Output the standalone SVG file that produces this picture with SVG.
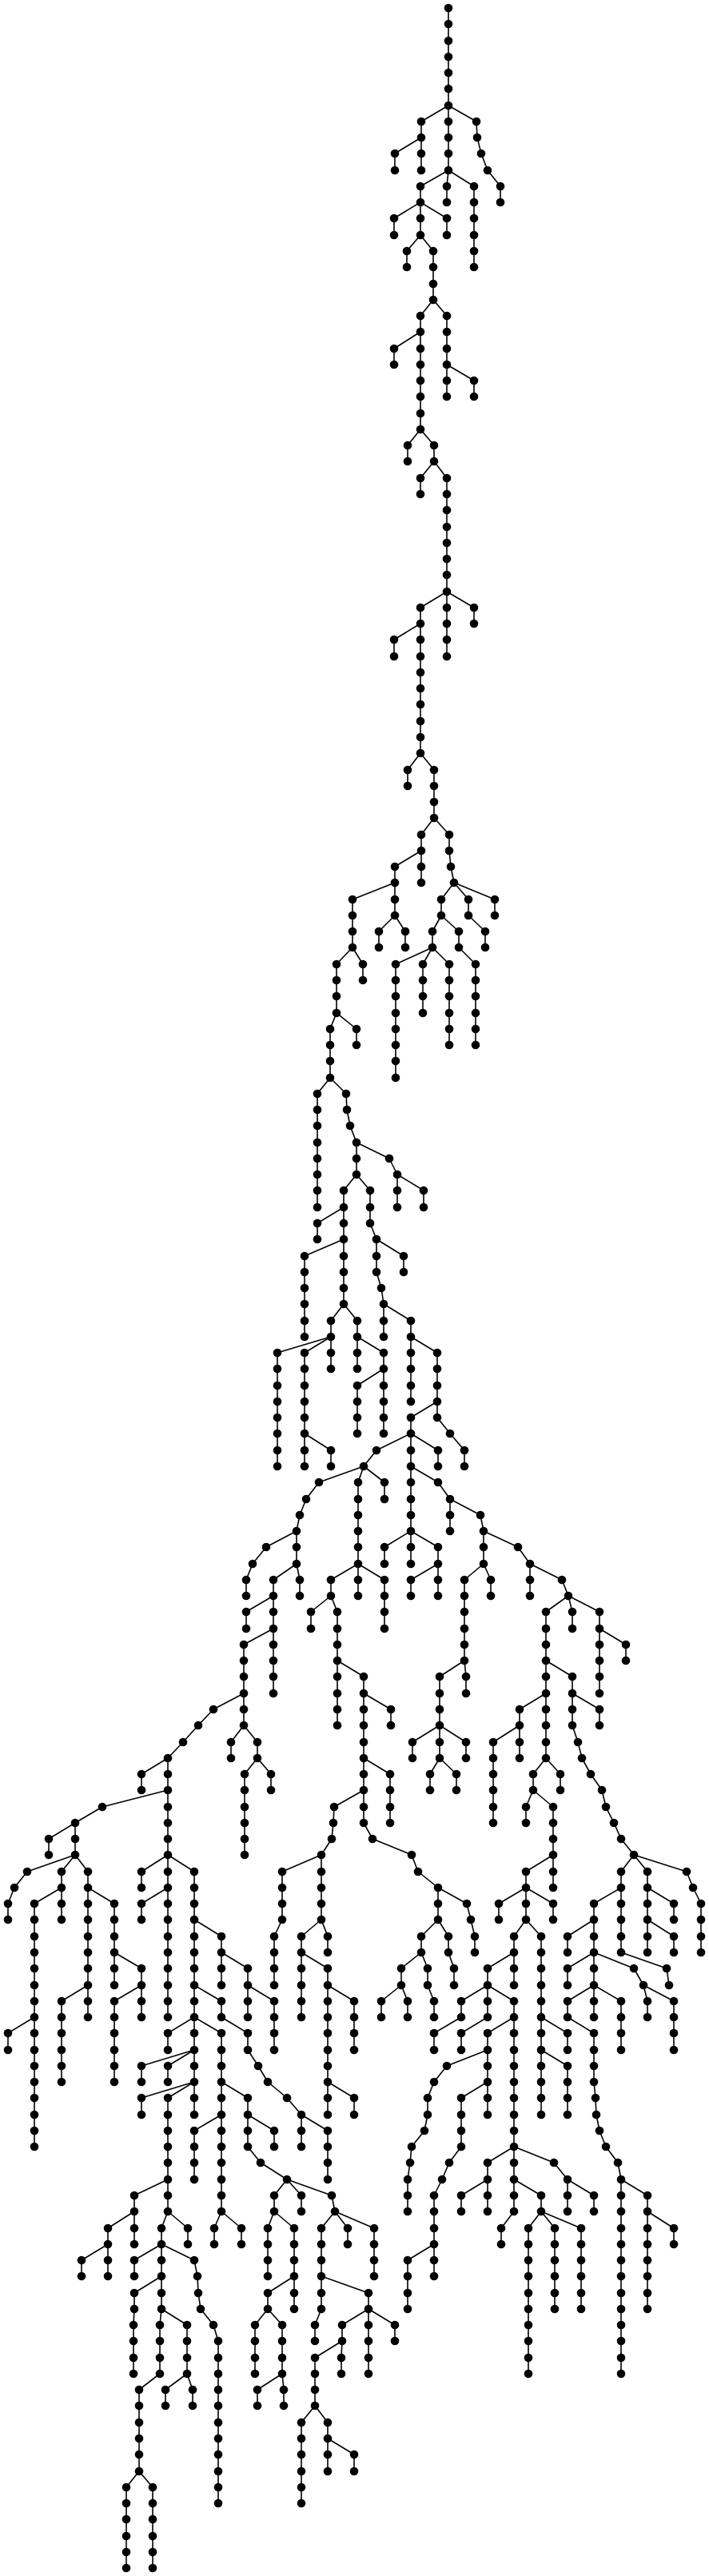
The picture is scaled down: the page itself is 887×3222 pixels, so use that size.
<svg xmlns="http://www.w3.org/2000/svg" width="887" height="3222" viewBox="0 0 887 3222">
<style>
#edges path{stroke:#000;stroke-width:1.6;fill:none}
.n circle{r:5.3px;fill:#000}
</style>
<rect width="887" height="3222" fill="#fff"/>
<g id="edges">
<path d="M561 10V30"/><path d="M561 30V51"/><path d="M561 51V71"/><path d="M561 71V91"/><path d="M561 91V111"/><path d="M561 111V132"/>
<path d="M561 132L527 152"/><path d="M561 132V152"/><path d="M561 132L596 152"/>
<path d="M527 152V172"/><path d="M561 152V172"/><path d="M596 152L597 172"/>
<path d="M527 172L494 192"/><path d="M527 172V192"/><path d="M561 172V192"/><path d="M597 172L602 192"/>
<path d="M494 192V213"/><path d="M527 192V213"/><path d="M561 192V213"/><path d="M602 192L610 213"/>
<path d="M561 213L526 233"/><path d="M561 213L559 233"/><path d="M561 213L593 233"/><path d="M610 213L626 233"/>
<path d="M526 233V253"/><path d="M559 233V253"/><path d="M593 233V253"/><path d="M626 233V253"/>
<path d="M526 253L493 273"/><path d="M526 253V273"/><path d="M526 253L559 273"/><path d="M593 253V273"/>
<path d="M493 273V294"/><path d="M526 273V294"/><path d="M559 273V294"/><path d="M593 273V294"/>
<path d="M526 294L509 314"/><path d="M526 294L542 314"/><path d="M593 294V314"/>
<path d="M509 314V334"/><path d="M542 314V334"/><path d="M593 314V334"/>
<path d="M542 334V355"/><path d="M542 355V375"/>
<path d="M542 375L526 395"/><path d="M542 375L559 395"/>
<path d="M526 395V415"/><path d="M559 395V415"/>
<path d="M526 415L493 436"/><path d="M526 415V436"/><path d="M559 415V436"/>
<path d="M493 436V456"/><path d="M526 436V456"/><path d="M559 436V456"/>
<path d="M526 456V476"/><path d="M559 456V476"/><path d="M559 456L593 476"/>
<path d="M526 476V496"/><path d="M559 476V496"/><path d="M593 476V496"/>
<path d="M526 496V517"/><path d="M526 517V537"/>
<path d="M526 537L510 557"/><path d="M526 537L543 557"/>
<path d="M510 557V577"/><path d="M543 557V577"/>
<path d="M543 577L526 598"/><path d="M543 577L559 598"/>
<path d="M526 598V618"/><path d="M559 598V618"/>
<path d="M559 618V638"/><path d="M559 638V659"/><path d="M559 659V679"/><path d="M559 679V699"/><path d="M559 699V719"/><path d="M559 719V740"/>
<path d="M559 740L526 760"/><path d="M559 740V760"/><path d="M559 740L593 760"/>
<path d="M526 760V780"/><path d="M559 760V780"/><path d="M593 760V780"/>
<path d="M526 780L493 800"/><path d="M526 780V800"/><path d="M559 780V800"/>
<path d="M493 800V821"/><path d="M526 800V821"/><path d="M559 800V821"/>
<path d="M526 821V841"/><path d="M526 841V861"/><path d="M526 861V881"/><path d="M526 881V902"/><path d="M526 902V922"/><path d="M526 922V942"/>
<path d="M526 942L510 963"/><path d="M526 942L543 963"/>
<path d="M510 963V983"/><path d="M543 963V983"/>
<path d="M543 983V1003"/><path d="M543 1003V1023"/>
<path d="M543 1023L527 1044"/><path d="M543 1023L562 1044"/>
<path d="M527 1044V1064"/><path d="M562 1044V1064"/>
<path d="M527 1064L494 1084"/><path d="M527 1064V1084"/><path d="M562 1064L564 1084"/>
<path d="M494 1084V1104"/><path d="M527 1084V1104"/><path d="M564 1084L568 1104"/>
<path d="M494 1104L441 1125"/><path d="M494 1104V1125"/><path d="M568 1104L552 1125"/><path d="M568 1104L586 1125"/><path d="M568 1104L619 1125"/>
<path d="M441 1125V1145"/><path d="M494 1125V1145"/><path d="M552 1125V1145"/><path d="M586 1125V1145"/><path d="M619 1125V1145"/>
<path d="M441 1145V1165"/><path d="M494 1145L474 1165"/><path d="M494 1145L507 1165"/><path d="M552 1145L541 1165"/><path d="M552 1145L574 1165"/><path d="M586 1145L607 1165"/>
<path d="M441 1165V1185"/><path d="M474 1165V1185"/><path d="M507 1165V1185"/><path d="M541 1165V1185"/><path d="M574 1165V1185"/><path d="M607 1165V1185"/>
<path d="M441 1185L421 1206"/><path d="M441 1185L454 1206"/><path d="M541 1185L495 1206"/><path d="M541 1185L529 1206"/><path d="M541 1185L562 1206"/><path d="M574 1185L595 1206"/>
<path d="M421 1206V1226"/><path d="M454 1206V1226"/><path d="M495 1206V1226"/><path d="M529 1206V1226"/><path d="M562 1206V1226"/><path d="M595 1206V1226"/>
<path d="M421 1226V1246"/><path d="M495 1226V1246"/><path d="M529 1226V1246"/><path d="M562 1226V1246"/><path d="M595 1226V1246"/>
<path d="M421 1246V1267"/><path d="M495 1246V1267"/><path d="M529 1246V1267"/><path d="M562 1246V1267"/><path d="M595 1246V1267"/>
<path d="M421 1267L413 1287"/><path d="M421 1267L446 1287"/><path d="M495 1267V1287"/><path d="M562 1267V1287"/><path d="M595 1267V1287"/>
<path d="M413 1287V1307"/><path d="M446 1287V1307"/><path d="M495 1287V1307"/><path d="M562 1287V1307"/><path d="M595 1287V1307"/>
<path d="M413 1307V1327"/><path d="M495 1307V1327"/>
<path d="M413 1327V1348"/><path d="M495 1327V1348"/>
<path d="M413 1348L397 1368"/><path d="M413 1348L433 1368"/>
<path d="M397 1368V1388"/><path d="M433 1368L434 1388"/>
<path d="M397 1388V1408"/><path d="M434 1388L438 1408"/>
<path d="M397 1408V1429"/><path d="M438 1408L446 1429"/>
<path d="M397 1429V1449"/><path d="M446 1429V1449"/><path d="M446 1429L487 1449"/>
<path d="M397 1449V1469"/><path d="M446 1449V1469"/><path d="M487 1449L497 1469"/>
<path d="M397 1469V1489"/><path d="M446 1469L430 1489"/><path d="M446 1469L463 1489"/><path d="M497 1469V1489"/><path d="M497 1469L530 1489"/>
<path d="M397 1489V1510"/><path d="M430 1489V1510"/><path d="M463 1489V1510"/><path d="M497 1489V1510"/><path d="M530 1489V1510"/>
<path d="M430 1510L397 1530"/><path d="M430 1510V1530"/><path d="M463 1510V1530"/>
<path d="M397 1530V1550"/><path d="M430 1530V1550"/><path d="M463 1530L471 1550"/>
<path d="M430 1550L381 1571"/><path d="M430 1550V1571"/><path d="M471 1550V1571"/><path d="M471 1550L505 1571"/>
<path d="M381 1571V1591"/><path d="M430 1571V1591"/><path d="M471 1571V1591"/><path d="M505 1571V1591"/>
<path d="M381 1591V1611"/><path d="M430 1591V1611"/><path d="M471 1591L477 1611"/>
<path d="M381 1611V1631"/><path d="M430 1611V1631"/><path d="M477 1611L480 1631"/>
<path d="M381 1631V1652"/><path d="M430 1631L414 1652"/><path d="M430 1631L447 1652"/><path d="M480 1631V1652"/><path d="M480 1631L514 1652"/>
<path d="M381 1652V1672"/><path d="M414 1652V1672"/><path d="M447 1652V1672"/><path d="M480 1652V1672"/><path d="M514 1652V1672"/>
<path d="M414 1672L347 1692"/><path d="M414 1672L381 1692"/><path d="M414 1672V1692"/><path d="M447 1672V1692"/><path d="M447 1672L480 1692"/><path d="M514 1672V1692"/><path d="M514 1672L547 1692"/>
<path d="M347 1692V1712"/><path d="M381 1692V1712"/><path d="M414 1692V1712"/><path d="M447 1692V1712"/><path d="M480 1692V1712"/><path d="M514 1692V1712"/><path d="M547 1692V1712"/>
<path d="M347 1712V1733"/><path d="M381 1712V1733"/><path d="M480 1712L447 1733"/><path d="M480 1712V1733"/><path d="M514 1712V1733"/><path d="M547 1712V1733"/>
<path d="M347 1733V1753"/><path d="M381 1733V1753"/><path d="M447 1733V1753"/><path d="M480 1733V1753"/><path d="M514 1733V1753"/><path d="M547 1733V1753"/>
<path d="M347 1753V1773"/><path d="M381 1753V1773"/><path d="M447 1753V1773"/><path d="M480 1753V1773"/><path d="M547 1753L514 1773"/><path d="M547 1753V1773"/>
<path d="M347 1773V1793"/><path d="M381 1773V1793"/><path d="M447 1773V1793"/><path d="M480 1773V1793"/><path d="M514 1773V1793"/><path d="M547 1773L563 1793"/>
<path d="M347 1793V1814"/><path d="M381 1793V1814"/><path d="M381 1793L414 1814"/><path d="M514 1793L471 1814"/><path d="M514 1793V1814"/><path d="M514 1793L548 1814"/><path d="M563 1793L581 1814"/>
<path d="M347 1814V1834"/><path d="M381 1814V1834"/><path d="M414 1814V1834"/><path d="M471 1814L455 1834"/><path d="M514 1814V1834"/><path d="M548 1814V1834"/><path d="M581 1814V1834"/>
<path d="M455 1834L399 1854"/><path d="M455 1834L448 1854"/><path d="M455 1834L481 1854"/><path d="M514 1834V1854"/><path d="M514 1834L548 1854"/>
<path d="M399 1854L383 1875"/><path d="M448 1854V1875"/><path d="M481 1854V1875"/><path d="M514 1854V1875"/><path d="M548 1854L563 1875"/>
<path d="M383 1875L375 1895"/><path d="M448 1875V1895"/><path d="M514 1875V1895"/><path d="M563 1875V1895"/><path d="M563 1875L601 1895"/>
<path d="M375 1895L371 1915"/><path d="M448 1895V1915"/><path d="M514 1895V1915"/><path d="M563 1895V1915"/><path d="M601 1895L605 1915"/>
<path d="M371 1915L333 1935"/><path d="M371 1915V1935"/><path d="M448 1915V1935"/><path d="M514 1915L481 1935"/><path d="M514 1915V1935"/><path d="M514 1915L548 1935"/><path d="M605 1915V1935"/><path d="M605 1915L648 1935"/>
<path d="M333 1935L316 1956"/><path d="M371 1935V1956"/><path d="M448 1935V1956"/><path d="M481 1935V1956"/><path d="M514 1935V1956"/><path d="M548 1935V1956"/><path d="M605 1935V1956"/><path d="M648 1935L663 1956"/>
<path d="M316 1956L308 1976"/><path d="M371 1956L342 1976"/><path d="M371 1956L375 1976"/><path d="M448 1956L414 1976"/><path d="M448 1956V1976"/><path d="M448 1956L481 1976"/><path d="M548 1956L514 1976"/><path d="M548 1956V1976"/><path d="M605 1956L581 1976"/><path d="M605 1956L614 1976"/><path d="M663 1956V1976"/><path d="M663 1956L703 1976"/>
<path d="M308 1976V1996"/><path d="M342 1976V1996"/><path d="M375 1976V1996"/><path d="M414 1976V1996"/><path d="M448 1976V1996"/><path d="M481 1976V1996"/><path d="M514 1976V1996"/><path d="M548 1976V1996"/><path d="M581 1976V1996"/><path d="M614 1976V1996"/><path d="M663 1976V1996"/><path d="M703 1976L711 1996"/>
<path d="M342 1996L308 2016"/><path d="M342 1996V2016"/><path d="M414 1996L389 2016"/><path d="M414 1996L422 2016"/><path d="M481 1996V2016"/><path d="M581 1996V2016"/><path d="M711 1996L683 2016"/><path d="M711 1996L716 2016"/><path d="M711 1996L750 2016"/>
<path d="M308 2016V2037"/><path d="M342 2016V2037"/><path d="M389 2016V2037"/><path d="M422 2016V2037"/><path d="M481 2016V2037"/><path d="M581 2016V2037"/><path d="M683 2016V2037"/><path d="M716 2016V2037"/><path d="M750 2016V2037"/>
<path d="M342 2037L305 2057"/><path d="M342 2037V2057"/><path d="M422 2037V2057"/><path d="M581 2037V2057"/><path d="M683 2037V2057"/><path d="M750 2037V2057"/><path d="M750 2037L783 2057"/>
<path d="M305 2057V2077"/><path d="M342 2057V2077"/><path d="M422 2057V2077"/><path d="M581 2057V2077"/><path d="M683 2057V2077"/><path d="M750 2057V2077"/><path d="M783 2057V2077"/>
<path d="M305 2077V2097"/><path d="M342 2077V2097"/><path d="M422 2077V2097"/><path d="M422 2077L455 2097"/><path d="M581 2077L550 2097"/><path d="M581 2077L583 2097"/><path d="M683 2077V2097"/><path d="M683 2077L716 2097"/><path d="M750 2077V2097"/>
<path d="M305 2097V2118"/><path d="M342 2097V2118"/><path d="M422 2097V2118"/><path d="M455 2097V2118"/><path d="M550 2097V2118"/><path d="M583 2097V2118"/><path d="M683 2097V2118"/><path d="M716 2097V2118"/><path d="M750 2097V2118"/>
<path d="M305 2118L267 2138"/><path d="M305 2118V2138"/><path d="M422 2118V2138"/><path d="M455 2118V2138"/><path d="M455 2118L489 2138"/><path d="M550 2118V2138"/><path d="M683 2118L650 2138"/><path d="M683 2118V2138"/><path d="M716 2118V2138"/><path d="M716 2118L750 2138"/>
<path d="M267 2138L248 2158"/><path d="M305 2138V2158"/><path d="M422 2138V2158"/><path d="M455 2138V2158"/><path d="M489 2138V2158"/><path d="M550 2138V2158"/><path d="M650 2138V2158"/><path d="M683 2138V2158"/><path d="M716 2138V2158"/><path d="M750 2138V2158"/>
<path d="M248 2158L229 2179"/><path d="M305 2158L289 2179"/><path d="M305 2158L322 2179"/><path d="M455 2158V2179"/><path d="M550 2158L516 2179"/><path d="M550 2158V2179"/><path d="M550 2158L583 2179"/><path d="M650 2158L617 2179"/><path d="M650 2158V2179"/><path d="M683 2158V2179"/><path d="M716 2158L723 2179"/>
<path d="M229 2179L210 2199"/><path d="M289 2179V2199"/><path d="M322 2179V2199"/><path d="M455 2179V2199"/><path d="M516 2179V2199"/><path d="M550 2179V2199"/><path d="M583 2179V2199"/><path d="M617 2179V2199"/><path d="M650 2179V2199"/><path d="M683 2179V2199"/><path d="M723 2179L728 2199"/>
<path d="M210 2199L177 2219"/><path d="M210 2199V2219"/><path d="M322 2199L306 2219"/><path d="M322 2199L339 2219"/><path d="M455 2199V2219"/><path d="M455 2199L488 2219"/><path d="M550 2199L538 2219"/><path d="M550 2199L571 2219"/><path d="M617 2199V2219"/><path d="M683 2199L667 2219"/><path d="M683 2199L701 2219"/><path d="M728 2199L739 2219"/>
<path d="M177 2219V2239"/><path d="M210 2219V2239"/><path d="M306 2219V2239"/><path d="M339 2219V2239"/><path d="M455 2219V2239"/><path d="M488 2219V2239"/><path d="M538 2219V2239"/><path d="M571 2219V2239"/><path d="M617 2219V2239"/><path d="M667 2219V2239"/><path d="M701 2219V2239"/><path d="M739 2219L753 2239"/>
<path d="M210 2239L128 2260"/><path d="M210 2239V2260"/><path d="M306 2239V2260"/><path d="M455 2239L418 2260"/><path d="M455 2239V2260"/><path d="M488 2239V2260"/><path d="M617 2239V2260"/><path d="M667 2239L658 2260"/><path d="M667 2239L692 2260"/><path d="M753 2239L758 2260"/>
<path d="M128 2260L94 2280"/><path d="M210 2260V2280"/><path d="M306 2260V2280"/><path d="M418 2260L417 2280"/><path d="M455 2260V2280"/><path d="M488 2260V2280"/><path d="M617 2260V2280"/><path d="M658 2260V2280"/><path d="M692 2260V2280"/><path d="M758 2260L768 2280"/>
<path d="M94 2280L61 2300"/><path d="M94 2280V2300"/><path d="M210 2280V2300"/><path d="M306 2280V2300"/><path d="M417 2280L415 2300"/><path d="M455 2280L466 2300"/><path d="M692 2280V2300"/><path d="M768 2280L777 2300"/>
<path d="M61 2300V2320"/><path d="M94 2300V2320"/><path d="M210 2300V2320"/><path d="M306 2300V2320"/><path d="M415 2300L402 2320"/><path d="M466 2300L515 2320"/><path d="M692 2300V2320"/><path d="M777 2300L793 2320"/>
<path d="M94 2320L34 2341"/><path d="M94 2320L77 2341"/><path d="M94 2320L110 2341"/><path d="M210 2320L177 2341"/><path d="M210 2320V2341"/><path d="M210 2320L243 2341"/><path d="M402 2320L353 2341"/><path d="M402 2320V2341"/><path d="M515 2320L523 2341"/><path d="M692 2320L658 2341"/><path d="M692 2320V2341"/><path d="M793 2320L777 2341"/><path d="M793 2320L810 2341"/><path d="M793 2320L859 2341"/>
<path d="M34 2341L18 2361"/><path d="M77 2341V2361"/><path d="M110 2341V2361"/><path d="M177 2341V2361"/><path d="M210 2341V2361"/><path d="M243 2341V2361"/><path d="M353 2341V2361"/><path d="M402 2341V2361"/><path d="M523 2341L548 2361"/><path d="M658 2341V2361"/><path d="M692 2341V2361"/><path d="M777 2341V2361"/><path d="M810 2341V2361"/><path d="M859 2341L867 2361"/>
<path d="M18 2361L10 2381"/><path d="M77 2361L43 2381"/><path d="M77 2361V2381"/><path d="M110 2361V2381"/><path d="M110 2361L143 2381"/><path d="M210 2361L177 2381"/><path d="M210 2361V2381"/><path d="M243 2361V2381"/><path d="M353 2361V2381"/><path d="M402 2361V2381"/><path d="M548 2361V2381"/><path d="M548 2361L584 2381"/><path d="M658 2361L624 2381"/><path d="M658 2361V2381"/><path d="M658 2361L692 2381"/><path d="M777 2361L743 2381"/><path d="M777 2361V2381"/><path d="M810 2361V2381"/><path d="M810 2361L843 2381"/><path d="M867 2361L877 2381"/>
<path d="M10 2381V2401"/><path d="M43 2381V2401"/><path d="M77 2381V2401"/><path d="M110 2381V2401"/><path d="M143 2381V2401"/><path d="M177 2381V2401"/><path d="M210 2381V2401"/><path d="M243 2381V2401"/><path d="M353 2381V2401"/><path d="M402 2381V2401"/><path d="M548 2381V2401"/><path d="M584 2381L589 2401"/><path d="M624 2381V2401"/><path d="M658 2381V2401"/><path d="M692 2381V2401"/><path d="M743 2381V2401"/><path d="M777 2381V2401"/><path d="M810 2381V2401"/><path d="M843 2381V2401"/><path d="M877 2381V2401"/>
<path d="M43 2401V2422"/><path d="M110 2401V2422"/><path d="M143 2401V2422"/><path d="M210 2401V2422"/><path d="M243 2401V2422"/><path d="M243 2401L277 2422"/><path d="M353 2401L343 2422"/><path d="M402 2401L377 2422"/><path d="M402 2401L410 2422"/><path d="M548 2401L527 2422"/><path d="M548 2401L561 2422"/><path d="M589 2401L594 2422"/><path d="M658 2401L643 2422"/><path d="M658 2401L677 2422"/><path d="M743 2401L710 2422"/><path d="M743 2401V2422"/><path d="M777 2401V2422"/><path d="M810 2401V2422"/><path d="M810 2401L843 2422"/><path d="M877 2401V2422"/>
<path d="M43 2422V2442"/><path d="M110 2422V2442"/><path d="M143 2422V2442"/><path d="M210 2422V2442"/><path d="M243 2422V2442"/><path d="M277 2422V2442"/><path d="M343 2422V2442"/><path d="M377 2422V2442"/><path d="M410 2422V2442"/><path d="M527 2422V2442"/><path d="M561 2422V2442"/><path d="M594 2422V2442"/><path d="M643 2422V2442"/><path d="M677 2422V2442"/><path d="M710 2422V2442"/><path d="M743 2422V2442"/><path d="M777 2422V2442"/><path d="M810 2422V2442"/><path d="M843 2422V2442"/><path d="M877 2422V2442"/>
<path d="M43 2442V2462"/><path d="M110 2442V2462"/><path d="M143 2442V2462"/><path d="M143 2442L177 2462"/><path d="M210 2442V2462"/><path d="M243 2442V2462"/><path d="M277 2442V2462"/><path d="M277 2442L310 2462"/><path d="M343 2442V2462"/><path d="M377 2442V2462"/><path d="M377 2442L410 2462"/><path d="M527 2442L502 2462"/><path d="M527 2442L535 2462"/><path d="M561 2442L568 2462"/><path d="M643 2442L610 2462"/><path d="M643 2442V2462"/><path d="M677 2442V2462"/><path d="M743 2442L710 2462"/><path d="M743 2442V2462"/><path d="M743 2442L793 2462"/><path d="M777 2442L834 2462"/>
<path d="M43 2462V2483"/><path d="M110 2462V2483"/><path d="M143 2462V2483"/><path d="M177 2462V2483"/><path d="M210 2462V2483"/><path d="M243 2462V2483"/><path d="M277 2462V2483"/><path d="M310 2462V2483"/><path d="M343 2462V2483"/><path d="M377 2462V2483"/><path d="M410 2462V2483"/><path d="M502 2462V2483"/><path d="M535 2462V2483"/><path d="M568 2462V2483"/><path d="M610 2462V2483"/><path d="M643 2462V2483"/><path d="M677 2462V2483"/><path d="M710 2462V2483"/><path d="M743 2462V2483"/><path d="M793 2462L805 2483"/><path d="M834 2462L837 2483"/>
<path d="M43 2483V2503"/><path d="M110 2483L77 2503"/><path d="M110 2483V2503"/><path d="M177 2483L143 2503"/><path d="M177 2483V2503"/><path d="M210 2483V2503"/><path d="M243 2483V2503"/><path d="M243 2483L277 2503"/><path d="M310 2483V2503"/><path d="M310 2483L343 2503"/><path d="M377 2483V2503"/><path d="M410 2483V2503"/><path d="M410 2483L443 2503"/><path d="M502 2483L477 2503"/><path d="M502 2483L510 2503"/><path d="M535 2483L543 2503"/><path d="M610 2483L577 2503"/><path d="M610 2483V2503"/><path d="M610 2483L643 2503"/><path d="M677 2483V2503"/><path d="M743 2483L710 2503"/><path d="M743 2483V2503"/><path d="M743 2483L777 2503"/><path d="M805 2483L810 2503"/><path d="M805 2483L843 2503"/>
<path d="M43 2503V2523"/><path d="M77 2503V2523"/><path d="M110 2503V2523"/><path d="M143 2503V2523"/><path d="M177 2503V2523"/><path d="M210 2503V2523"/><path d="M243 2503V2523"/><path d="M277 2503V2523"/><path d="M310 2503V2523"/><path d="M343 2503V2523"/><path d="M377 2503V2523"/><path d="M410 2503V2523"/><path d="M443 2503V2523"/><path d="M477 2503V2523"/><path d="M510 2503V2523"/><path d="M543 2503V2523"/><path d="M577 2503V2523"/><path d="M610 2503V2523"/><path d="M643 2503V2523"/><path d="M677 2503V2523"/><path d="M710 2503V2523"/><path d="M743 2503V2523"/><path d="M777 2503V2523"/><path d="M810 2503V2523"/><path d="M843 2503V2523"/>
<path d="M43 2523L10 2543"/><path d="M43 2523V2543"/><path d="M77 2523V2543"/><path d="M143 2523V2543"/><path d="M243 2523L210 2543"/><path d="M243 2523V2543"/><path d="M243 2523L277 2543"/><path d="M277 2523L310 2543"/><path d="M343 2523V2543"/><path d="M410 2523V2543"/><path d="M443 2523V2543"/><path d="M577 2523L543 2543"/><path d="M610 2523L577 2543"/><path d="M643 2523L610 2543"/><path d="M643 2523V2543"/><path d="M677 2523V2543"/><path d="M677 2523L710 2543"/><path d="M710 2523L743 2543"/><path d="M777 2523V2543"/><path d="M843 2523V2543"/>
<path d="M10 2543V2564"/><path d="M43 2543V2564"/><path d="M77 2543V2564"/><path d="M143 2543V2564"/><path d="M210 2543V2564"/><path d="M243 2543V2564"/><path d="M277 2543V2564"/><path d="M310 2543V2564"/><path d="M343 2543V2564"/><path d="M410 2543V2564"/><path d="M443 2543V2564"/><path d="M543 2543V2564"/><path d="M577 2543V2564"/><path d="M610 2543V2564"/><path d="M643 2543V2564"/><path d="M677 2543V2564"/><path d="M710 2543V2564"/><path d="M743 2543V2564"/><path d="M777 2543V2564"/><path d="M843 2543V2564"/>
<path d="M43 2564V2584"/><path d="M77 2564V2584"/><path d="M143 2564V2584"/><path d="M243 2564L177 2584"/><path d="M243 2564L210 2584"/><path d="M243 2564V2584"/><path d="M277 2564V2584"/><path d="M310 2564L323 2584"/><path d="M410 2564V2584"/><path d="M610 2564L559 2584"/><path d="M610 2564V2584"/><path d="M643 2564V2584"/><path d="M677 2564V2584"/><path d="M677 2564L710 2584"/><path d="M743 2564V2584"/>
<path d="M43 2584V2604"/><path d="M77 2584V2604"/><path d="M143 2584V2604"/><path d="M177 2584V2604"/><path d="M210 2584V2604"/><path d="M243 2584V2604"/><path d="M277 2584V2604"/><path d="M323 2584L335 2604"/><path d="M410 2584V2604"/><path d="M559 2584L543 2604"/><path d="M610 2584V2604"/><path d="M643 2584V2604"/><path d="M677 2584V2604"/><path d="M710 2584V2604"/><path d="M743 2584V2604"/>
<path d="M43 2604V2624"/><path d="M243 2604L177 2624"/><path d="M243 2604L210 2624"/><path d="M243 2604V2624"/><path d="M277 2604V2624"/><path d="M277 2604L310 2624"/><path d="M335 2604L359 2624"/><path d="M410 2604V2624"/><path d="M410 2604L443 2624"/><path d="M543 2604L535 2624"/><path d="M610 2604L577 2624"/><path d="M610 2604V2624"/><path d="M643 2604V2624"/><path d="M677 2604V2624"/><path d="M710 2604V2624"/><path d="M743 2604L745 2624"/>
<path d="M43 2624V2645"/><path d="M177 2624V2645"/><path d="M210 2624V2645"/><path d="M243 2624V2645"/><path d="M277 2624V2645"/><path d="M310 2624V2645"/><path d="M359 2624L377 2645"/><path d="M410 2624V2645"/><path d="M443 2624V2645"/><path d="M535 2624V2645"/><path d="M577 2624V2645"/><path d="M610 2624V2645"/><path d="M643 2624V2645"/><path d="M677 2624V2645"/><path d="M710 2624V2645"/><path d="M745 2624L746 2645"/>
<path d="M43 2645V2665"/><path d="M210 2645V2665"/><path d="M277 2645L243 2665"/><path d="M277 2645V2665"/><path d="M310 2645V2665"/><path d="M310 2645L343 2665"/><path d="M377 2645V2665"/><path d="M377 2645L410 2665"/><path d="M535 2645L531 2665"/><path d="M577 2645V2665"/><path d="M643 2645V2665"/><path d="M746 2645L750 2665"/>
<path d="M43 2665V2685"/><path d="M210 2665V2685"/><path d="M243 2665V2685"/><path d="M277 2665V2685"/><path d="M310 2665V2685"/><path d="M343 2665V2685"/><path d="M377 2665V2685"/><path d="M410 2665V2685"/><path d="M531 2665L515 2685"/><path d="M577 2665V2685"/><path d="M643 2665V2685"/><path d="M750 2665L758 2685"/>
<path d="M210 2685V2705"/><path d="M243 2685V2705"/><path d="M277 2685V2705"/><path d="M310 2685L326 2705"/><path d="M410 2685V2705"/><path d="M515 2685L513 2705"/><path d="M577 2685L562 2705"/><path d="M643 2685L610 2705"/><path d="M643 2685V2705"/><path d="M643 2685L693 2705"/><path d="M758 2685L773 2705"/>
<path d="M210 2705V2726"/><path d="M243 2705V2726"/><path d="M277 2705V2726"/><path d="M326 2705L359 2726"/><path d="M410 2705V2726"/><path d="M513 2705L510 2726"/><path d="M562 2705L553 2726"/><path d="M610 2705V2726"/><path d="M643 2705V2726"/><path d="M693 2705L710 2726"/><path d="M773 2705L777 2726"/>
<path d="M210 2726L168 2746"/><path d="M210 2726V2746"/><path d="M277 2726V2746"/><path d="M359 2726L343 2746"/><path d="M359 2726L377 2746"/><path d="M359 2726L415 2746"/><path d="M510 2726V2746"/><path d="M553 2726L543 2746"/><path d="M610 2726L577 2746"/><path d="M610 2726V2746"/><path d="M643 2726V2746"/><path d="M643 2726L677 2746"/><path d="M710 2726V2746"/><path d="M710 2726L743 2746"/><path d="M777 2726V2746"/><path d="M777 2726L810 2746"/>
<path d="M168 2746V2766"/><path d="M210 2746V2766"/><path d="M277 2746V2766"/><path d="M343 2746V2766"/><path d="M377 2746V2766"/><path d="M415 2746L419 2766"/><path d="M510 2746V2766"/><path d="M543 2746V2766"/><path d="M577 2746V2766"/><path d="M610 2746V2766"/><path d="M643 2746V2766"/><path d="M677 2746V2766"/><path d="M710 2746V2766"/><path d="M743 2746V2766"/><path d="M777 2746V2766"/><path d="M810 2746V2766"/>
<path d="M168 2766L135 2787"/><path d="M168 2766V2787"/><path d="M210 2766L202 2787"/><path d="M210 2766L235 2787"/><path d="M277 2766L268 2787"/><path d="M277 2766L302 2787"/><path d="M343 2766L335 2787"/><path d="M343 2766L368 2787"/><path d="M419 2766L402 2787"/><path d="M419 2766L435 2787"/><path d="M419 2766L468 2787"/><path d="M543 2766V2787"/><path d="M643 2766L627 2787"/><path d="M677 2766L661 2787"/><path d="M677 2766L694 2787"/><path d="M677 2766L727 2787"/><path d="M777 2766V2787"/><path d="M810 2766V2787"/><path d="M810 2766L843 2787"/>
<path d="M135 2787V2807"/><path d="M168 2787V2807"/><path d="M202 2787V2807"/><path d="M235 2787V2807"/><path d="M268 2787V2807"/><path d="M302 2787V2807"/><path d="M335 2787V2807"/><path d="M368 2787V2807"/><path d="M402 2787V2807"/><path d="M435 2787V2807"/><path d="M468 2787V2807"/><path d="M543 2787V2807"/><path d="M627 2787V2807"/><path d="M661 2787V2807"/><path d="M694 2787V2807"/><path d="M727 2787V2807"/><path d="M777 2787V2807"/><path d="M810 2787V2807"/><path d="M843 2787V2807"/>
<path d="M135 2807L102 2827"/><path d="M135 2807V2827"/><path d="M202 2807L168 2827"/><path d="M202 2807V2827"/><path d="M202 2807L243 2827"/><path d="M335 2807V2827"/><path d="M368 2807V2827"/><path d="M402 2807V2827"/><path d="M468 2807V2827"/><path d="M543 2807L510 2827"/><path d="M543 2807V2827"/><path d="M661 2807V2827"/><path d="M694 2807V2827"/><path d="M727 2807V2827"/><path d="M777 2807V2827"/><path d="M810 2807V2827"/>
<path d="M102 2827V2847"/><path d="M135 2827V2847"/><path d="M168 2827V2847"/><path d="M202 2827V2847"/><path d="M243 2827L247 2847"/><path d="M335 2827V2847"/><path d="M368 2827V2847"/><path d="M402 2827V2847"/><path d="M468 2827V2847"/><path d="M510 2827V2847"/><path d="M543 2827V2847"/><path d="M661 2827V2847"/><path d="M694 2827V2847"/><path d="M727 2827V2847"/><path d="M777 2827V2847"/><path d="M810 2827V2847"/>
<path d="M202 2847L168 2868"/><path d="M202 2847V2868"/><path d="M247 2847L248 2868"/><path d="M368 2847L335 2868"/><path d="M368 2847V2868"/><path d="M402 2847V2868"/><path d="M402 2847L461 2868"/><path d="M510 2847V2868"/><path d="M661 2847V2868"/><path d="M694 2847V2868"/><path d="M727 2847V2868"/><path d="M777 2847V2868"/><path d="M810 2847V2868"/>
<path d="M168 2868V2888"/><path d="M202 2868V2888"/><path d="M248 2868L251 2888"/><path d="M335 2868V2888"/><path d="M368 2868V2888"/><path d="M402 2868V2888"/><path d="M461 2868V2888"/><path d="M510 2868V2888"/><path d="M661 2868V2888"/><path d="M694 2868V2888"/><path d="M727 2868V2888"/><path d="M777 2868V2888"/><path d="M810 2868V2888"/>
<path d="M168 2888L167 2908"/><path d="M202 2888L200 2908"/><path d="M202 2888L234 2908"/><path d="M251 2888L267 2908"/><path d="M335 2888L319 2908"/><path d="M335 2888L353 2908"/><path d="M402 2888L394 2908"/><path d="M461 2888L428 2908"/><path d="M461 2888V2908"/><path d="M461 2888L494 2908"/><path d="M661 2888V2908"/><path d="M777 2888V2908"/>
<path d="M167 2908V2928"/><path d="M200 2908V2928"/><path d="M234 2908V2928"/><path d="M267 2908L273 2928"/><path d="M319 2908V2928"/><path d="M353 2908V2928"/><path d="M394 2908V2928"/><path d="M428 2908V2928"/><path d="M461 2908V2928"/><path d="M494 2908V2928"/><path d="M661 2908V2928"/><path d="M777 2908V2928"/>
<path d="M167 2928V2949"/><path d="M200 2928V2949"/><path d="M234 2928V2949"/><path d="M273 2928V2949"/><path d="M319 2928V2949"/><path d="M353 2928V2949"/><path d="M428 2928L394 2949"/><path d="M428 2928L427 2949"/><path d="M461 2928V2949"/><path d="M661 2928V2949"/><path d="M777 2928V2949"/>
<path d="M167 2949V2969"/><path d="M200 2949V2969"/><path d="M234 2949V2969"/><path d="M273 2949V2969"/><path d="M319 2949V2969"/><path d="M353 2949V2969"/><path d="M394 2949V2969"/><path d="M427 2949V2969"/><path d="M461 2949V2969"/><path d="M661 2949V2969"/><path d="M777 2949V2969"/>
<path d="M200 2969L174 2989"/><path d="M234 2969L207 2989"/><path d="M234 2969L241 2989"/><path d="M273 2969V2989"/><path d="M353 2969L322 2989"/><path d="M353 2969L355 2989"/><path d="M394 2969V2989"/>
<path d="M174 2989V3009"/><path d="M207 2989V3009"/><path d="M241 2989V3009"/><path d="M273 2989V3009"/><path d="M322 2989V3009"/><path d="M355 2989V3009"/><path d="M394 2989V3009"/>
<path d="M174 3009V3030"/><path d="M273 3009V3030"/><path d="M394 3009L377 3030"/><path d="M394 3009L410 3030"/>
<path d="M174 3030V3050"/><path d="M273 3030V3050"/><path d="M377 3030V3050"/><path d="M410 3030V3050"/>
<path d="M174 3050V3070"/><path d="M273 3050V3070"/><path d="M377 3050V3070"/><path d="M410 3050V3070"/><path d="M410 3050L443 3070"/>
<path d="M174 3070V3091"/><path d="M273 3070V3091"/><path d="M377 3070V3091"/><path d="M410 3070V3091"/><path d="M443 3070V3091"/>
<path d="M174 3091L158 3111"/><path d="M174 3091L191 3111"/><path d="M273 3091V3111"/><path d="M377 3091V3111"/>
<path d="M158 3111V3131"/><path d="M191 3111V3131"/><path d="M273 3111V3131"/><path d="M377 3111V3131"/>
<path d="M158 3131V3151"/><path d="M191 3131V3151"/><path d="M158 3151V3172"/><path d="M191 3151V3172"/><path d="M158 3172V3192"/><path d="M191 3172V3192"/><path d="M158 3192V3212"/><path d="M191 3192V3212"/>
</g>
<g class="n">
<g id="n1"><circle cx="561" cy="10"/></g><g id="n2"><circle cx="561" cy="30"/></g><g id="n3"><circle cx="561" cy="51"/></g><g id="n4"><circle cx="561" cy="71"/></g><g id="n5"><circle cx="561" cy="91"/></g><g id="n6"><circle cx="561" cy="111"/></g><g id="n7"><circle cx="561" cy="132"/></g>
<g id="n8"><circle cx="527" cy="152"/></g><g id="n9"><circle cx="561" cy="152"/></g><g id="n10"><circle cx="596" cy="152"/></g>
<g id="n11"><circle cx="527" cy="172"/></g><g id="n12"><circle cx="561" cy="172"/></g><g id="n13"><circle cx="597" cy="172"/></g>
<g id="n14"><circle cx="494" cy="192"/></g><g id="n15"><circle cx="527" cy="192"/></g><g id="n16"><circle cx="561" cy="192"/></g><g id="n17"><circle cx="602" cy="192"/></g>
<g id="n18"><circle cx="494" cy="213"/></g><g id="n19"><circle cx="527" cy="213"/></g><g id="n20"><circle cx="561" cy="213"/></g><g id="n21"><circle cx="610" cy="213"/></g>
<g id="n22"><circle cx="526" cy="233"/></g><g id="n23"><circle cx="559" cy="233"/></g><g id="n24"><circle cx="593" cy="233"/></g><g id="n25"><circle cx="626" cy="233"/></g>
<g id="n26"><circle cx="526" cy="253"/></g><g id="n27"><circle cx="559" cy="253"/></g><g id="n28"><circle cx="593" cy="253"/></g><g id="n29"><circle cx="626" cy="253"/></g>
<g id="n30"><circle cx="493" cy="273"/></g><g id="n31"><circle cx="526" cy="273"/></g><g id="n32"><circle cx="559" cy="273"/></g><g id="n33"><circle cx="593" cy="273"/></g>
<g id="n34"><circle cx="493" cy="294"/></g><g id="n35"><circle cx="526" cy="294"/></g><g id="n36"><circle cx="559" cy="294"/></g><g id="n37"><circle cx="593" cy="294"/></g>
<g id="n38"><circle cx="509" cy="314"/></g><g id="n39"><circle cx="542" cy="314"/></g><g id="n40"><circle cx="593" cy="314"/></g>
<g id="n41"><circle cx="509" cy="334"/></g><g id="n42"><circle cx="542" cy="334"/></g><g id="n43"><circle cx="593" cy="334"/></g>
<g id="n44"><circle cx="542" cy="355"/></g><g id="n45"><circle cx="542" cy="375"/></g>
<g id="n46"><circle cx="526" cy="395"/></g><g id="n47"><circle cx="559" cy="395"/></g>
<g id="n48"><circle cx="526" cy="415"/></g><g id="n49"><circle cx="559" cy="415"/></g>
<g id="n50"><circle cx="493" cy="436"/></g><g id="n51"><circle cx="526" cy="436"/></g><g id="n52"><circle cx="559" cy="436"/></g>
<g id="n53"><circle cx="493" cy="456"/></g><g id="n54"><circle cx="526" cy="456"/></g><g id="n55"><circle cx="559" cy="456"/></g>
<g id="n56"><circle cx="526" cy="476"/></g><g id="n57"><circle cx="559" cy="476"/></g><g id="n58"><circle cx="593" cy="476"/></g>
<g id="n59"><circle cx="526" cy="496"/></g><g id="n60"><circle cx="559" cy="496"/></g><g id="n61"><circle cx="593" cy="496"/></g>
<g id="n62"><circle cx="526" cy="517"/></g><g id="n63"><circle cx="526" cy="537"/></g>
<g id="n64"><circle cx="510" cy="557"/></g><g id="n65"><circle cx="543" cy="557"/></g>
<g id="n66"><circle cx="510" cy="577"/></g><g id="n67"><circle cx="543" cy="577"/></g>
<g id="n68"><circle cx="526" cy="598"/></g><g id="n69"><circle cx="559" cy="598"/></g>
<g id="n70"><circle cx="526" cy="618"/></g><g id="n71"><circle cx="559" cy="618"/></g>
<g id="n72"><circle cx="559" cy="638"/></g><g id="n73"><circle cx="559" cy="659"/></g><g id="n74"><circle cx="559" cy="679"/></g><g id="n75"><circle cx="559" cy="699"/></g><g id="n76"><circle cx="559" cy="719"/></g><g id="n77"><circle cx="559" cy="740"/></g>
<g id="n78"><circle cx="526" cy="760"/></g><g id="n79"><circle cx="559" cy="760"/></g><g id="n80"><circle cx="593" cy="760"/></g>
<g id="n81"><circle cx="526" cy="780"/></g><g id="n82"><circle cx="559" cy="780"/></g><g id="n83"><circle cx="593" cy="780"/></g>
<g id="n84"><circle cx="493" cy="800"/></g><g id="n85"><circle cx="526" cy="800"/></g><g id="n86"><circle cx="559" cy="800"/></g>
<g id="n87"><circle cx="493" cy="821"/></g><g id="n88"><circle cx="526" cy="821"/></g><g id="n89"><circle cx="559" cy="821"/></g>
<g id="n90"><circle cx="526" cy="841"/></g><g id="n91"><circle cx="526" cy="861"/></g><g id="n92"><circle cx="526" cy="881"/></g><g id="n93"><circle cx="526" cy="902"/></g><g id="n94"><circle cx="526" cy="922"/></g><g id="n95"><circle cx="526" cy="942"/></g>
<g id="n96"><circle cx="510" cy="963"/></g><g id="n97"><circle cx="543" cy="963"/></g>
<g id="n98"><circle cx="510" cy="983"/></g><g id="n99"><circle cx="543" cy="983"/></g>
<g id="n100"><circle cx="543" cy="1003"/></g><g id="n101"><circle cx="543" cy="1023"/></g>
<g id="n102"><circle cx="527" cy="1044"/></g><g id="n103"><circle cx="562" cy="1044"/></g>
<g id="n104"><circle cx="527" cy="1064"/></g><g id="n105"><circle cx="562" cy="1064"/></g>
<g id="n106"><circle cx="494" cy="1084"/></g><g id="n107"><circle cx="527" cy="1084"/></g><g id="n108"><circle cx="564" cy="1084"/></g>
<g id="n109"><circle cx="494" cy="1104"/></g><g id="n110"><circle cx="527" cy="1104"/></g><g id="n111"><circle cx="568" cy="1104"/></g>
<g id="n112"><circle cx="441" cy="1125"/></g><g id="n113"><circle cx="494" cy="1125"/></g><g id="n114"><circle cx="552" cy="1125"/></g><g id="n115"><circle cx="586" cy="1125"/></g><g id="n116"><circle cx="619" cy="1125"/></g>
<g id="n117"><circle cx="441" cy="1145"/></g><g id="n118"><circle cx="494" cy="1145"/></g><g id="n119"><circle cx="552" cy="1145"/></g><g id="n120"><circle cx="586" cy="1145"/></g><g id="n121"><circle cx="619" cy="1145"/></g>
<g id="n122"><circle cx="441" cy="1165"/></g><g id="n123"><circle cx="474" cy="1165"/></g><g id="n124"><circle cx="507" cy="1165"/></g><g id="n125"><circle cx="541" cy="1165"/></g><g id="n126"><circle cx="574" cy="1165"/></g><g id="n127"><circle cx="607" cy="1165"/></g>
<g id="n128"><circle cx="441" cy="1185"/></g><g id="n129"><circle cx="474" cy="1185"/></g><g id="n130"><circle cx="507" cy="1185"/></g><g id="n131"><circle cx="541" cy="1185"/></g><g id="n132"><circle cx="574" cy="1185"/></g><g id="n133"><circle cx="607" cy="1185"/></g>
<g id="n134"><circle cx="421" cy="1206"/></g><g id="n135"><circle cx="454" cy="1206"/></g><g id="n136"><circle cx="495" cy="1206"/></g><g id="n137"><circle cx="529" cy="1206"/></g><g id="n138"><circle cx="562" cy="1206"/></g><g id="n139"><circle cx="595" cy="1206"/></g>
<g id="n140"><circle cx="421" cy="1226"/></g><g id="n141"><circle cx="454" cy="1226"/></g><g id="n142"><circle cx="495" cy="1226"/></g><g id="n143"><circle cx="529" cy="1226"/></g><g id="n144"><circle cx="562" cy="1226"/></g><g id="n145"><circle cx="595" cy="1226"/></g>
<g id="n146"><circle cx="421" cy="1246"/></g><g id="n147"><circle cx="495" cy="1246"/></g><g id="n148"><circle cx="529" cy="1246"/></g><g id="n149"><circle cx="562" cy="1246"/></g><g id="n150"><circle cx="595" cy="1246"/></g>
<g id="n151"><circle cx="421" cy="1267"/></g><g id="n152"><circle cx="495" cy="1267"/></g><g id="n153"><circle cx="529" cy="1267"/></g><g id="n154"><circle cx="562" cy="1267"/></g><g id="n155"><circle cx="595" cy="1267"/></g>
<g id="n156"><circle cx="413" cy="1287"/></g><g id="n157"><circle cx="446" cy="1287"/></g><g id="n158"><circle cx="495" cy="1287"/></g><g id="n159"><circle cx="562" cy="1287"/></g><g id="n160"><circle cx="595" cy="1287"/></g>
<g id="n161"><circle cx="413" cy="1307"/></g><g id="n162"><circle cx="446" cy="1307"/></g><g id="n163"><circle cx="495" cy="1307"/></g><g id="n164"><circle cx="562" cy="1307"/></g><g id="n165"><circle cx="595" cy="1307"/></g>
<g id="n166"><circle cx="413" cy="1327"/></g><g id="n167"><circle cx="495" cy="1327"/></g>
<g id="n168"><circle cx="413" cy="1348"/></g><g id="n169"><circle cx="495" cy="1348"/></g>
<g id="n170"><circle cx="397" cy="1368"/></g><g id="n171"><circle cx="433" cy="1368"/></g>
<g id="n172"><circle cx="397" cy="1388"/></g><g id="n173"><circle cx="434" cy="1388"/></g>
<g id="n174"><circle cx="397" cy="1408"/></g><g id="n175"><circle cx="438" cy="1408"/></g>
<g id="n176"><circle cx="397" cy="1429"/></g><g id="n177"><circle cx="446" cy="1429"/></g>
<g id="n178"><circle cx="397" cy="1449"/></g><g id="n179"><circle cx="446" cy="1449"/></g><g id="n180"><circle cx="487" cy="1449"/></g>
<g id="n181"><circle cx="397" cy="1469"/></g><g id="n182"><circle cx="446" cy="1469"/></g><g id="n183"><circle cx="497" cy="1469"/></g>
<g id="n184"><circle cx="397" cy="1489"/></g><g id="n185"><circle cx="430" cy="1489"/></g><g id="n186"><circle cx="463" cy="1489"/></g><g id="n187"><circle cx="497" cy="1489"/></g><g id="n188"><circle cx="530" cy="1489"/></g>
<g id="n189"><circle cx="397" cy="1510"/></g><g id="n190"><circle cx="430" cy="1510"/></g><g id="n191"><circle cx="463" cy="1510"/></g><g id="n192"><circle cx="497" cy="1510"/></g><g id="n193"><circle cx="530" cy="1510"/></g>
<g id="n194"><circle cx="397" cy="1530"/></g><g id="n195"><circle cx="430" cy="1530"/></g><g id="n196"><circle cx="463" cy="1530"/></g>
<g id="n197"><circle cx="397" cy="1550"/></g><g id="n198"><circle cx="430" cy="1550"/></g><g id="n199"><circle cx="471" cy="1550"/></g>
<g id="n200"><circle cx="381" cy="1571"/></g><g id="n201"><circle cx="430" cy="1571"/></g><g id="n202"><circle cx="471" cy="1571"/></g><g id="n203"><circle cx="505" cy="1571"/></g>
<g id="n204"><circle cx="381" cy="1591"/></g><g id="n205"><circle cx="430" cy="1591"/></g><g id="n206"><circle cx="471" cy="1591"/></g><g id="n207"><circle cx="505" cy="1591"/></g>
<g id="n208"><circle cx="381" cy="1611"/></g><g id="n209"><circle cx="430" cy="1611"/></g><g id="n210"><circle cx="477" cy="1611"/></g>
<g id="n211"><circle cx="381" cy="1631"/></g><g id="n212"><circle cx="430" cy="1631"/></g><g id="n213"><circle cx="480" cy="1631"/></g>
<g id="n214"><circle cx="381" cy="1652"/></g><g id="n215"><circle cx="414" cy="1652"/></g><g id="n216"><circle cx="447" cy="1652"/></g><g id="n217"><circle cx="480" cy="1652"/></g><g id="n218"><circle cx="514" cy="1652"/></g>
<g id="n219"><circle cx="381" cy="1672"/></g><g id="n220"><circle cx="414" cy="1672"/></g><g id="n221"><circle cx="447" cy="1672"/></g><g id="n222"><circle cx="480" cy="1672"/></g><g id="n223"><circle cx="514" cy="1672"/></g>
<g id="n224"><circle cx="347" cy="1692"/></g><g id="n225"><circle cx="381" cy="1692"/></g><g id="n226"><circle cx="414" cy="1692"/></g><g id="n227"><circle cx="447" cy="1692"/></g><g id="n228"><circle cx="480" cy="1692"/></g><g id="n229"><circle cx="514" cy="1692"/></g><g id="n230"><circle cx="547" cy="1692"/></g>
<g id="n231"><circle cx="347" cy="1712"/></g><g id="n232"><circle cx="381" cy="1712"/></g><g id="n233"><circle cx="414" cy="1712"/></g><g id="n234"><circle cx="447" cy="1712"/></g><g id="n235"><circle cx="480" cy="1712"/></g><g id="n236"><circle cx="514" cy="1712"/></g><g id="n237"><circle cx="547" cy="1712"/></g>
<g id="n238"><circle cx="347" cy="1733"/></g><g id="n239"><circle cx="381" cy="1733"/></g><g id="n240"><circle cx="447" cy="1733"/></g><g id="n241"><circle cx="480" cy="1733"/></g><g id="n242"><circle cx="514" cy="1733"/></g><g id="n243"><circle cx="547" cy="1733"/></g>
<g id="n244"><circle cx="347" cy="1753"/></g><g id="n245"><circle cx="381" cy="1753"/></g><g id="n246"><circle cx="447" cy="1753"/></g><g id="n247"><circle cx="480" cy="1753"/></g><g id="n248"><circle cx="514" cy="1753"/></g><g id="n249"><circle cx="547" cy="1753"/></g>
<g id="n250"><circle cx="347" cy="1773"/></g><g id="n251"><circle cx="381" cy="1773"/></g><g id="n252"><circle cx="447" cy="1773"/></g><g id="n253"><circle cx="480" cy="1773"/></g><g id="n254"><circle cx="514" cy="1773"/></g><g id="n255"><circle cx="547" cy="1773"/></g>
<g id="n256"><circle cx="347" cy="1793"/></g><g id="n257"><circle cx="381" cy="1793"/></g><g id="n258"><circle cx="447" cy="1793"/></g><g id="n259"><circle cx="480" cy="1793"/></g><g id="n260"><circle cx="514" cy="1793"/></g><g id="n261"><circle cx="563" cy="1793"/></g>
<g id="n262"><circle cx="347" cy="1814"/></g><g id="n263"><circle cx="381" cy="1814"/></g><g id="n264"><circle cx="414" cy="1814"/></g><g id="n265"><circle cx="471" cy="1814"/></g><g id="n266"><circle cx="514" cy="1814"/></g><g id="n267"><circle cx="548" cy="1814"/></g><g id="n268"><circle cx="581" cy="1814"/></g>
<g id="n269"><circle cx="347" cy="1834"/></g><g id="n270"><circle cx="381" cy="1834"/></g><g id="n271"><circle cx="414" cy="1834"/></g><g id="n272"><circle cx="455" cy="1834"/></g><g id="n273"><circle cx="514" cy="1834"/></g><g id="n274"><circle cx="548" cy="1834"/></g><g id="n275"><circle cx="581" cy="1834"/></g>
<g id="n276"><circle cx="399" cy="1854"/></g><g id="n277"><circle cx="448" cy="1854"/></g><g id="n278"><circle cx="481" cy="1854"/></g><g id="n279"><circle cx="514" cy="1854"/></g><g id="n280"><circle cx="548" cy="1854"/></g>
<g id="n281"><circle cx="383" cy="1875"/></g><g id="n282"><circle cx="448" cy="1875"/></g><g id="n283"><circle cx="481" cy="1875"/></g><g id="n284"><circle cx="514" cy="1875"/></g><g id="n285"><circle cx="563" cy="1875"/></g>
<g id="n286"><circle cx="375" cy="1895"/></g><g id="n287"><circle cx="448" cy="1895"/></g><g id="n288"><circle cx="514" cy="1895"/></g><g id="n289"><circle cx="563" cy="1895"/></g><g id="n290"><circle cx="601" cy="1895"/></g>
<g id="n291"><circle cx="371" cy="1915"/></g><g id="n292"><circle cx="448" cy="1915"/></g><g id="n293"><circle cx="514" cy="1915"/></g><g id="n294"><circle cx="563" cy="1915"/></g><g id="n295"><circle cx="605" cy="1915"/></g>
<g id="n296"><circle cx="333" cy="1935"/></g><g id="n297"><circle cx="371" cy="1935"/></g><g id="n298"><circle cx="448" cy="1935"/></g><g id="n299"><circle cx="481" cy="1935"/></g><g id="n300"><circle cx="514" cy="1935"/></g><g id="n301"><circle cx="548" cy="1935"/></g><g id="n302"><circle cx="605" cy="1935"/></g><g id="n303"><circle cx="648" cy="1935"/></g>
<g id="n304"><circle cx="316" cy="1956"/></g><g id="n305"><circle cx="371" cy="1956"/></g><g id="n306"><circle cx="448" cy="1956"/></g><g id="n307"><circle cx="481" cy="1956"/></g><g id="n308"><circle cx="514" cy="1956"/></g><g id="n309"><circle cx="548" cy="1956"/></g><g id="n310"><circle cx="605" cy="1956"/></g><g id="n311"><circle cx="663" cy="1956"/></g>
<g id="n312"><circle cx="308" cy="1976"/></g><g id="n313"><circle cx="342" cy="1976"/></g><g id="n314"><circle cx="375" cy="1976"/></g><g id="n315"><circle cx="414" cy="1976"/></g><g id="n316"><circle cx="448" cy="1976"/></g><g id="n317"><circle cx="481" cy="1976"/></g><g id="n318"><circle cx="514" cy="1976"/></g><g id="n319"><circle cx="548" cy="1976"/></g><g id="n320"><circle cx="581" cy="1976"/></g><g id="n321"><circle cx="614" cy="1976"/></g><g id="n322"><circle cx="663" cy="1976"/></g><g id="n323"><circle cx="703" cy="1976"/></g>
<g id="n324"><circle cx="308" cy="1996"/></g><g id="n325"><circle cx="342" cy="1996"/></g><g id="n326"><circle cx="375" cy="1996"/></g><g id="n327"><circle cx="414" cy="1996"/></g><g id="n328"><circle cx="448" cy="1996"/></g><g id="n329"><circle cx="481" cy="1996"/></g><g id="n330"><circle cx="514" cy="1996"/></g><g id="n331"><circle cx="548" cy="1996"/></g><g id="n332"><circle cx="581" cy="1996"/></g><g id="n333"><circle cx="614" cy="1996"/></g><g id="n334"><circle cx="663" cy="1996"/></g><g id="n335"><circle cx="711" cy="1996"/></g>
<g id="n336"><circle cx="308" cy="2016"/></g><g id="n337"><circle cx="342" cy="2016"/></g><g id="n338"><circle cx="389" cy="2016"/></g><g id="n339"><circle cx="422" cy="2016"/></g><g id="n340"><circle cx="481" cy="2016"/></g><g id="n341"><circle cx="581" cy="2016"/></g><g id="n342"><circle cx="683" cy="2016"/></g><g id="n343"><circle cx="716" cy="2016"/></g><g id="n344"><circle cx="750" cy="2016"/></g>
<g id="n345"><circle cx="308" cy="2037"/></g><g id="n346"><circle cx="342" cy="2037"/></g><g id="n347"><circle cx="389" cy="2037"/></g><g id="n348"><circle cx="422" cy="2037"/></g><g id="n349"><circle cx="481" cy="2037"/></g><g id="n350"><circle cx="581" cy="2037"/></g><g id="n351"><circle cx="683" cy="2037"/></g><g id="n352"><circle cx="716" cy="2037"/></g><g id="n353"><circle cx="750" cy="2037"/></g>
<g id="n354"><circle cx="305" cy="2057"/></g><g id="n355"><circle cx="342" cy="2057"/></g><g id="n356"><circle cx="422" cy="2057"/></g><g id="n357"><circle cx="581" cy="2057"/></g><g id="n358"><circle cx="683" cy="2057"/></g><g id="n359"><circle cx="750" cy="2057"/></g><g id="n360"><circle cx="783" cy="2057"/></g>
<g id="n361"><circle cx="305" cy="2077"/></g><g id="n362"><circle cx="342" cy="2077"/></g><g id="n363"><circle cx="422" cy="2077"/></g><g id="n364"><circle cx="581" cy="2077"/></g><g id="n365"><circle cx="683" cy="2077"/></g><g id="n366"><circle cx="750" cy="2077"/></g><g id="n367"><circle cx="783" cy="2077"/></g>
<g id="n368"><circle cx="305" cy="2097"/></g><g id="n369"><circle cx="342" cy="2097"/></g><g id="n370"><circle cx="422" cy="2097"/></g><g id="n371"><circle cx="455" cy="2097"/></g><g id="n372"><circle cx="550" cy="2097"/></g><g id="n373"><circle cx="583" cy="2097"/></g><g id="n374"><circle cx="683" cy="2097"/></g><g id="n375"><circle cx="716" cy="2097"/></g><g id="n376"><circle cx="750" cy="2097"/></g>
<g id="n377"><circle cx="305" cy="2118"/></g><g id="n378"><circle cx="342" cy="2118"/></g><g id="n379"><circle cx="422" cy="2118"/></g><g id="n380"><circle cx="455" cy="2118"/></g><g id="n381"><circle cx="550" cy="2118"/></g><g id="n382"><circle cx="583" cy="2118"/></g><g id="n383"><circle cx="683" cy="2118"/></g><g id="n384"><circle cx="716" cy="2118"/></g><g id="n385"><circle cx="750" cy="2118"/></g>
<g id="n386"><circle cx="267" cy="2138"/></g><g id="n387"><circle cx="305" cy="2138"/></g><g id="n388"><circle cx="422" cy="2138"/></g><g id="n389"><circle cx="455" cy="2138"/></g><g id="n390"><circle cx="489" cy="2138"/></g><g id="n391"><circle cx="550" cy="2138"/></g><g id="n392"><circle cx="650" cy="2138"/></g><g id="n393"><circle cx="683" cy="2138"/></g><g id="n394"><circle cx="716" cy="2138"/></g><g id="n395"><circle cx="750" cy="2138"/></g>
<g id="n396"><circle cx="248" cy="2158"/></g><g id="n397"><circle cx="305" cy="2158"/></g><g id="n398"><circle cx="422" cy="2158"/></g><g id="n399"><circle cx="455" cy="2158"/></g><g id="n400"><circle cx="489" cy="2158"/></g><g id="n401"><circle cx="550" cy="2158"/></g><g id="n402"><circle cx="650" cy="2158"/></g><g id="n403"><circle cx="683" cy="2158"/></g><g id="n404"><circle cx="716" cy="2158"/></g><g id="n405"><circle cx="750" cy="2158"/></g>
<g id="n406"><circle cx="229" cy="2179"/></g><g id="n407"><circle cx="289" cy="2179"/></g><g id="n408"><circle cx="322" cy="2179"/></g><g id="n409"><circle cx="455" cy="2179"/></g><g id="n410"><circle cx="516" cy="2179"/></g><g id="n411"><circle cx="550" cy="2179"/></g><g id="n412"><circle cx="583" cy="2179"/></g><g id="n413"><circle cx="617" cy="2179"/></g><g id="n414"><circle cx="650" cy="2179"/></g><g id="n415"><circle cx="683" cy="2179"/></g><g id="n416"><circle cx="723" cy="2179"/></g>
<g id="n417"><circle cx="210" cy="2199"/></g><g id="n418"><circle cx="289" cy="2199"/></g><g id="n419"><circle cx="322" cy="2199"/></g><g id="n420"><circle cx="455" cy="2199"/></g><g id="n421"><circle cx="516" cy="2199"/></g><g id="n422"><circle cx="550" cy="2199"/></g><g id="n423"><circle cx="583" cy="2199"/></g><g id="n424"><circle cx="617" cy="2199"/></g><g id="n425"><circle cx="650" cy="2199"/></g><g id="n426"><circle cx="683" cy="2199"/></g><g id="n427"><circle cx="728" cy="2199"/></g>
<g id="n428"><circle cx="177" cy="2219"/></g><g id="n429"><circle cx="210" cy="2219"/></g><g id="n430"><circle cx="306" cy="2219"/></g><g id="n431"><circle cx="339" cy="2219"/></g><g id="n432"><circle cx="455" cy="2219"/></g><g id="n433"><circle cx="488" cy="2219"/></g><g id="n434"><circle cx="538" cy="2219"/></g><g id="n435"><circle cx="571" cy="2219"/></g><g id="n436"><circle cx="617" cy="2219"/></g><g id="n437"><circle cx="667" cy="2219"/></g><g id="n438"><circle cx="701" cy="2219"/></g><g id="n439"><circle cx="739" cy="2219"/></g>
<g id="n440"><circle cx="177" cy="2239"/></g><g id="n441"><circle cx="210" cy="2239"/></g><g id="n442"><circle cx="306" cy="2239"/></g><g id="n443"><circle cx="339" cy="2239"/></g><g id="n444"><circle cx="455" cy="2239"/></g><g id="n445"><circle cx="488" cy="2239"/></g><g id="n446"><circle cx="538" cy="2239"/></g><g id="n447"><circle cx="571" cy="2239"/></g><g id="n448"><circle cx="617" cy="2239"/></g><g id="n449"><circle cx="667" cy="2239"/></g><g id="n450"><circle cx="701" cy="2239"/></g><g id="n451"><circle cx="753" cy="2239"/></g>
<g id="n452"><circle cx="128" cy="2260"/></g><g id="n453"><circle cx="210" cy="2260"/></g><g id="n454"><circle cx="306" cy="2260"/></g><g id="n455"><circle cx="418" cy="2260"/></g><g id="n456"><circle cx="455" cy="2260"/></g><g id="n457"><circle cx="488" cy="2260"/></g><g id="n458"><circle cx="617" cy="2260"/></g><g id="n459"><circle cx="658" cy="2260"/></g><g id="n460"><circle cx="692" cy="2260"/></g><g id="n461"><circle cx="758" cy="2260"/></g>
<g id="n462"><circle cx="94" cy="2280"/></g><g id="n463"><circle cx="210" cy="2280"/></g><g id="n464"><circle cx="306" cy="2280"/></g><g id="n465"><circle cx="417" cy="2280"/></g><g id="n466"><circle cx="455" cy="2280"/></g><g id="n467"><circle cx="488" cy="2280"/></g><g id="n468"><circle cx="617" cy="2280"/></g><g id="n469"><circle cx="658" cy="2280"/></g><g id="n470"><circle cx="692" cy="2280"/></g><g id="n471"><circle cx="768" cy="2280"/></g>
<g id="n472"><circle cx="61" cy="2300"/></g><g id="n473"><circle cx="94" cy="2300"/></g><g id="n474"><circle cx="210" cy="2300"/></g><g id="n475"><circle cx="306" cy="2300"/></g><g id="n476"><circle cx="415" cy="2300"/></g><g id="n477"><circle cx="466" cy="2300"/></g><g id="n478"><circle cx="692" cy="2300"/></g><g id="n479"><circle cx="777" cy="2300"/></g>
<g id="n480"><circle cx="61" cy="2320"/></g><g id="n481"><circle cx="94" cy="2320"/></g><g id="n482"><circle cx="210" cy="2320"/></g><g id="n483"><circle cx="306" cy="2320"/></g><g id="n484"><circle cx="402" cy="2320"/></g><g id="n485"><circle cx="515" cy="2320"/></g><g id="n486"><circle cx="692" cy="2320"/></g><g id="n487"><circle cx="793" cy="2320"/></g>
<g id="n488"><circle cx="34" cy="2341"/></g><g id="n489"><circle cx="77" cy="2341"/></g><g id="n490"><circle cx="110" cy="2341"/></g><g id="n491"><circle cx="177" cy="2341"/></g><g id="n492"><circle cx="210" cy="2341"/></g><g id="n493"><circle cx="243" cy="2341"/></g><g id="n494"><circle cx="353" cy="2341"/></g><g id="n495"><circle cx="402" cy="2341"/></g><g id="n496"><circle cx="523" cy="2341"/></g><g id="n497"><circle cx="658" cy="2341"/></g><g id="n498"><circle cx="692" cy="2341"/></g><g id="n499"><circle cx="777" cy="2341"/></g><g id="n500"><circle cx="810" cy="2341"/></g><g id="n501"><circle cx="859" cy="2341"/></g>
<g id="n502"><circle cx="18" cy="2361"/></g><g id="n503"><circle cx="77" cy="2361"/></g><g id="n504"><circle cx="110" cy="2361"/></g><g id="n505"><circle cx="177" cy="2361"/></g><g id="n506"><circle cx="210" cy="2361"/></g><g id="n507"><circle cx="243" cy="2361"/></g><g id="n508"><circle cx="353" cy="2361"/></g><g id="n509"><circle cx="402" cy="2361"/></g><g id="n510"><circle cx="548" cy="2361"/></g><g id="n511"><circle cx="658" cy="2361"/></g><g id="n512"><circle cx="692" cy="2361"/></g><g id="n513"><circle cx="777" cy="2361"/></g><g id="n514"><circle cx="810" cy="2361"/></g><g id="n515"><circle cx="867" cy="2361"/></g>
<g id="n516"><circle cx="10" cy="2381"/></g><g id="n517"><circle cx="43" cy="2381"/></g><g id="n518"><circle cx="77" cy="2381"/></g><g id="n519"><circle cx="110" cy="2381"/></g><g id="n520"><circle cx="143" cy="2381"/></g><g id="n521"><circle cx="177" cy="2381"/></g><g id="n522"><circle cx="210" cy="2381"/></g><g id="n523"><circle cx="243" cy="2381"/></g><g id="n524"><circle cx="353" cy="2381"/></g><g id="n525"><circle cx="402" cy="2381"/></g><g id="n526"><circle cx="548" cy="2381"/></g><g id="n527"><circle cx="584" cy="2381"/></g><g id="n528"><circle cx="624" cy="2381"/></g><g id="n529"><circle cx="658" cy="2381"/></g><g id="n530"><circle cx="692" cy="2381"/></g><g id="n531"><circle cx="743" cy="2381"/></g><g id="n532"><circle cx="777" cy="2381"/></g><g id="n533"><circle cx="810" cy="2381"/></g><g id="n534"><circle cx="843" cy="2381"/></g><g id="n535"><circle cx="877" cy="2381"/></g>
<g id="n536"><circle cx="10" cy="2401"/></g><g id="n537"><circle cx="43" cy="2401"/></g><g id="n538"><circle cx="77" cy="2401"/></g><g id="n539"><circle cx="110" cy="2401"/></g><g id="n540"><circle cx="143" cy="2401"/></g><g id="n541"><circle cx="177" cy="2401"/></g><g id="n542"><circle cx="210" cy="2401"/></g><g id="n543"><circle cx="243" cy="2401"/></g><g id="n544"><circle cx="353" cy="2401"/></g><g id="n545"><circle cx="402" cy="2401"/></g><g id="n546"><circle cx="548" cy="2401"/></g><g id="n547"><circle cx="589" cy="2401"/></g><g id="n548"><circle cx="624" cy="2401"/></g><g id="n549"><circle cx="658" cy="2401"/></g><g id="n550"><circle cx="692" cy="2401"/></g><g id="n551"><circle cx="743" cy="2401"/></g><g id="n552"><circle cx="777" cy="2401"/></g><g id="n553"><circle cx="810" cy="2401"/></g><g id="n554"><circle cx="843" cy="2401"/></g><g id="n555"><circle cx="877" cy="2401"/></g>
<g id="n556"><circle cx="43" cy="2422"/></g><g id="n557"><circle cx="110" cy="2422"/></g><g id="n558"><circle cx="143" cy="2422"/></g><g id="n559"><circle cx="210" cy="2422"/></g><g id="n560"><circle cx="243" cy="2422"/></g><g id="n561"><circle cx="277" cy="2422"/></g><g id="n562"><circle cx="343" cy="2422"/></g><g id="n563"><circle cx="377" cy="2422"/></g><g id="n564"><circle cx="410" cy="2422"/></g><g id="n565"><circle cx="527" cy="2422"/></g><g id="n566"><circle cx="561" cy="2422"/></g><g id="n567"><circle cx="594" cy="2422"/></g><g id="n568"><circle cx="643" cy="2422"/></g><g id="n569"><circle cx="677" cy="2422"/></g><g id="n570"><circle cx="710" cy="2422"/></g><g id="n571"><circle cx="743" cy="2422"/></g><g id="n572"><circle cx="777" cy="2422"/></g><g id="n573"><circle cx="810" cy="2422"/></g><g id="n574"><circle cx="843" cy="2422"/></g><g id="n575"><circle cx="877" cy="2422"/></g>
<g id="n576"><circle cx="43" cy="2442"/></g><g id="n577"><circle cx="110" cy="2442"/></g><g id="n578"><circle cx="143" cy="2442"/></g><g id="n579"><circle cx="210" cy="2442"/></g><g id="n580"><circle cx="243" cy="2442"/></g><g id="n581"><circle cx="277" cy="2442"/></g><g id="n582"><circle cx="343" cy="2442"/></g><g id="n583"><circle cx="377" cy="2442"/></g><g id="n584"><circle cx="410" cy="2442"/></g><g id="n585"><circle cx="527" cy="2442"/></g><g id="n586"><circle cx="561" cy="2442"/></g><g id="n587"><circle cx="594" cy="2442"/></g><g id="n588"><circle cx="643" cy="2442"/></g><g id="n589"><circle cx="677" cy="2442"/></g><g id="n590"><circle cx="710" cy="2442"/></g><g id="n591"><circle cx="743" cy="2442"/></g><g id="n592"><circle cx="777" cy="2442"/></g><g id="n593"><circle cx="810" cy="2442"/></g><g id="n594"><circle cx="843" cy="2442"/></g><g id="n595"><circle cx="877" cy="2442"/></g>
<g id="n596"><circle cx="43" cy="2462"/></g><g id="n597"><circle cx="110" cy="2462"/></g><g id="n598"><circle cx="143" cy="2462"/></g><g id="n599"><circle cx="177" cy="2462"/></g><g id="n600"><circle cx="210" cy="2462"/></g><g id="n601"><circle cx="243" cy="2462"/></g><g id="n602"><circle cx="277" cy="2462"/></g><g id="n603"><circle cx="310" cy="2462"/></g><g id="n604"><circle cx="343" cy="2462"/></g><g id="n605"><circle cx="377" cy="2462"/></g><g id="n606"><circle cx="410" cy="2462"/></g><g id="n607"><circle cx="502" cy="2462"/></g><g id="n608"><circle cx="535" cy="2462"/></g><g id="n609"><circle cx="568" cy="2462"/></g><g id="n610"><circle cx="610" cy="2462"/></g><g id="n611"><circle cx="643" cy="2462"/></g><g id="n612"><circle cx="677" cy="2462"/></g><g id="n613"><circle cx="710" cy="2462"/></g><g id="n614"><circle cx="743" cy="2462"/></g><g id="n615"><circle cx="793" cy="2462"/></g><g id="n616"><circle cx="834" cy="2462"/></g>
<g id="n617"><circle cx="43" cy="2483"/></g><g id="n618"><circle cx="110" cy="2483"/></g><g id="n619"><circle cx="143" cy="2483"/></g><g id="n620"><circle cx="177" cy="2483"/></g><g id="n621"><circle cx="210" cy="2483"/></g><g id="n622"><circle cx="243" cy="2483"/></g><g id="n623"><circle cx="277" cy="2483"/></g><g id="n624"><circle cx="310" cy="2483"/></g><g id="n625"><circle cx="343" cy="2483"/></g><g id="n626"><circle cx="377" cy="2483"/></g><g id="n627"><circle cx="410" cy="2483"/></g><g id="n628"><circle cx="502" cy="2483"/></g><g id="n629"><circle cx="535" cy="2483"/></g><g id="n630"><circle cx="568" cy="2483"/></g><g id="n631"><circle cx="610" cy="2483"/></g><g id="n632"><circle cx="643" cy="2483"/></g><g id="n633"><circle cx="677" cy="2483"/></g><g id="n634"><circle cx="710" cy="2483"/></g><g id="n635"><circle cx="743" cy="2483"/></g><g id="n636"><circle cx="805" cy="2483"/></g><g id="n637"><circle cx="837" cy="2483"/></g>
<g id="n638"><circle cx="77" cy="2503"/></g><g id="n639"><circle cx="110" cy="2503"/></g><g id="n640"><circle cx="143" cy="2503"/></g><g id="n641"><circle cx="177" cy="2503"/></g><g id="n642"><circle cx="210" cy="2503"/></g><g id="n643"><circle cx="243" cy="2503"/></g><g id="n644"><circle cx="277" cy="2503"/></g><g id="n645"><circle cx="310" cy="2503"/></g><g id="n646"><circle cx="343" cy="2503"/></g><g id="n647"><circle cx="377" cy="2503"/></g><g id="n648"><circle cx="410" cy="2503"/></g><g id="n649"><circle cx="443" cy="2503"/></g><g id="n650"><circle cx="477" cy="2503"/></g><g id="n651"><circle cx="510" cy="2503"/></g><g id="n652"><circle cx="543" cy="2503"/></g><g id="n653"><circle cx="577" cy="2503"/></g><g id="n654"><circle cx="610" cy="2503"/></g><g id="n655"><circle cx="643" cy="2503"/></g><g id="n656"><circle cx="677" cy="2503"/></g><g id="n657"><circle cx="710" cy="2503"/></g><g id="n658"><circle cx="743" cy="2503"/></g><g id="n659"><circle cx="777" cy="2503"/></g><g id="n660"><circle cx="810" cy="2503"/></g><g id="n661"><circle cx="843" cy="2503"/></g><g id="n662"><circle cx="43" cy="2503"/></g>
<g id="n663"><circle cx="43" cy="2523"/></g><g id="n664"><circle cx="77" cy="2523"/></g><g id="n665"><circle cx="110" cy="2523"/></g><g id="n666"><circle cx="143" cy="2523"/></g><g id="n667"><circle cx="177" cy="2523"/></g><g id="n668"><circle cx="210" cy="2523"/></g><g id="n669"><circle cx="243" cy="2523"/></g><g id="n670"><circle cx="277" cy="2523"/></g><g id="n671"><circle cx="310" cy="2523"/></g><g id="n672"><circle cx="343" cy="2523"/></g><g id="n673"><circle cx="377" cy="2523"/></g><g id="n674"><circle cx="410" cy="2523"/></g><g id="n675"><circle cx="443" cy="2523"/></g><g id="n676"><circle cx="477" cy="2523"/></g><g id="n677"><circle cx="510" cy="2523"/></g><g id="n678"><circle cx="543" cy="2523"/></g><g id="n679"><circle cx="577" cy="2523"/></g><g id="n680"><circle cx="610" cy="2523"/></g><g id="n681"><circle cx="643" cy="2523"/></g><g id="n682"><circle cx="677" cy="2523"/></g><g id="n683"><circle cx="710" cy="2523"/></g><g id="n684"><circle cx="743" cy="2523"/></g><g id="n685"><circle cx="777" cy="2523"/></g><g id="n686"><circle cx="810" cy="2523"/></g><g id="n687"><circle cx="843" cy="2523"/></g>
<g id="n688"><circle cx="10" cy="2543"/></g><g id="n689"><circle cx="43" cy="2543"/></g><g id="n690"><circle cx="77" cy="2543"/></g><g id="n691"><circle cx="143" cy="2543"/></g><g id="n692"><circle cx="210" cy="2543"/></g><g id="n693"><circle cx="243" cy="2543"/></g><g id="n694"><circle cx="277" cy="2543"/></g><g id="n695"><circle cx="310" cy="2543"/></g><g id="n696"><circle cx="343" cy="2543"/></g><g id="n697"><circle cx="410" cy="2543"/></g><g id="n698"><circle cx="443" cy="2543"/></g><g id="n699"><circle cx="543" cy="2543"/></g><g id="n700"><circle cx="577" cy="2543"/></g><g id="n701"><circle cx="610" cy="2543"/></g><g id="n702"><circle cx="643" cy="2543"/></g><g id="n703"><circle cx="677" cy="2543"/></g><g id="n704"><circle cx="710" cy="2543"/></g><g id="n705"><circle cx="743" cy="2543"/></g><g id="n706"><circle cx="777" cy="2543"/></g><g id="n707"><circle cx="843" cy="2543"/></g>
<g id="n708"><circle cx="10" cy="2564"/></g><g id="n709"><circle cx="43" cy="2564"/></g><g id="n710"><circle cx="77" cy="2564"/></g><g id="n711"><circle cx="143" cy="2564"/></g><g id="n712"><circle cx="210" cy="2564"/></g><g id="n713"><circle cx="243" cy="2564"/></g><g id="n714"><circle cx="277" cy="2564"/></g><g id="n715"><circle cx="310" cy="2564"/></g><g id="n716"><circle cx="343" cy="2564"/></g><g id="n717"><circle cx="410" cy="2564"/></g><g id="n718"><circle cx="443" cy="2564"/></g><g id="n719"><circle cx="543" cy="2564"/></g><g id="n720"><circle cx="577" cy="2564"/></g><g id="n721"><circle cx="610" cy="2564"/></g><g id="n722"><circle cx="643" cy="2564"/></g><g id="n723"><circle cx="677" cy="2564"/></g><g id="n724"><circle cx="710" cy="2564"/></g><g id="n725"><circle cx="743" cy="2564"/></g><g id="n726"><circle cx="777" cy="2564"/></g><g id="n727"><circle cx="843" cy="2564"/></g>
<g id="n728"><circle cx="43" cy="2584"/></g><g id="n729"><circle cx="77" cy="2584"/></g><g id="n730"><circle cx="143" cy="2584"/></g><g id="n731"><circle cx="177" cy="2584"/></g><g id="n732"><circle cx="210" cy="2584"/></g><g id="n733"><circle cx="243" cy="2584"/></g><g id="n734"><circle cx="277" cy="2584"/></g><g id="n735"><circle cx="323" cy="2584"/></g><g id="n736"><circle cx="410" cy="2584"/></g><g id="n737"><circle cx="559" cy="2584"/></g><g id="n738"><circle cx="610" cy="2584"/></g><g id="n739"><circle cx="643" cy="2584"/></g><g id="n740"><circle cx="677" cy="2584"/></g><g id="n741"><circle cx="710" cy="2584"/></g><g id="n742"><circle cx="743" cy="2584"/></g>
<g id="n743"><circle cx="43" cy="2604"/></g><g id="n744"><circle cx="77" cy="2604"/></g><g id="n745"><circle cx="143" cy="2604"/></g><g id="n746"><circle cx="177" cy="2604"/></g><g id="n747"><circle cx="210" cy="2604"/></g><g id="n748"><circle cx="243" cy="2604"/></g><g id="n749"><circle cx="277" cy="2604"/></g><g id="n750"><circle cx="335" cy="2604"/></g><g id="n751"><circle cx="410" cy="2604"/></g><g id="n752"><circle cx="543" cy="2604"/></g><g id="n753"><circle cx="610" cy="2604"/></g><g id="n754"><circle cx="643" cy="2604"/></g><g id="n755"><circle cx="677" cy="2604"/></g><g id="n756"><circle cx="710" cy="2604"/></g><g id="n757"><circle cx="743" cy="2604"/></g>
<g id="n758"><circle cx="43" cy="2624"/></g><g id="n759"><circle cx="177" cy="2624"/></g><g id="n760"><circle cx="210" cy="2624"/></g><g id="n761"><circle cx="243" cy="2624"/></g><g id="n762"><circle cx="277" cy="2624"/></g><g id="n763"><circle cx="310" cy="2624"/></g><g id="n764"><circle cx="359" cy="2624"/></g><g id="n765"><circle cx="410" cy="2624"/></g><g id="n766"><circle cx="443" cy="2624"/></g><g id="n767"><circle cx="535" cy="2624"/></g><g id="n768"><circle cx="577" cy="2624"/></g><g id="n769"><circle cx="610" cy="2624"/></g><g id="n770"><circle cx="643" cy="2624"/></g><g id="n771"><circle cx="677" cy="2624"/></g><g id="n772"><circle cx="710" cy="2624"/></g><g id="n773"><circle cx="745" cy="2624"/></g>
<g id="n774"><circle cx="43" cy="2645"/></g><g id="n775"><circle cx="177" cy="2645"/></g><g id="n776"><circle cx="210" cy="2645"/></g><g id="n777"><circle cx="243" cy="2645"/></g><g id="n778"><circle cx="277" cy="2645"/></g><g id="n779"><circle cx="310" cy="2645"/></g><g id="n780"><circle cx="377" cy="2645"/></g><g id="n781"><circle cx="410" cy="2645"/></g><g id="n782"><circle cx="443" cy="2645"/></g><g id="n783"><circle cx="535" cy="2645"/></g><g id="n784"><circle cx="577" cy="2645"/></g><g id="n785"><circle cx="610" cy="2645"/></g><g id="n786"><circle cx="643" cy="2645"/></g><g id="n787"><circle cx="677" cy="2645"/></g><g id="n788"><circle cx="710" cy="2645"/></g><g id="n789"><circle cx="746" cy="2645"/></g>
<g id="n790"><circle cx="43" cy="2665"/></g><g id="n791"><circle cx="210" cy="2665"/></g><g id="n792"><circle cx="243" cy="2665"/></g><g id="n793"><circle cx="277" cy="2665"/></g><g id="n794"><circle cx="310" cy="2665"/></g><g id="n795"><circle cx="343" cy="2665"/></g><g id="n796"><circle cx="377" cy="2665"/></g><g id="n797"><circle cx="410" cy="2665"/></g><g id="n798"><circle cx="531" cy="2665"/></g><g id="n799"><circle cx="577" cy="2665"/></g><g id="n800"><circle cx="643" cy="2665"/></g><g id="n801"><circle cx="750" cy="2665"/></g>
<g id="n802"><circle cx="43" cy="2685"/></g><g id="n803"><circle cx="210" cy="2685"/></g><g id="n804"><circle cx="243" cy="2685"/></g><g id="n805"><circle cx="277" cy="2685"/></g><g id="n806"><circle cx="310" cy="2685"/></g><g id="n807"><circle cx="343" cy="2685"/></g><g id="n808"><circle cx="377" cy="2685"/></g><g id="n809"><circle cx="410" cy="2685"/></g><g id="n810"><circle cx="515" cy="2685"/></g><g id="n811"><circle cx="577" cy="2685"/></g><g id="n812"><circle cx="643" cy="2685"/></g><g id="n813"><circle cx="758" cy="2685"/></g>
<g id="n814"><circle cx="210" cy="2705"/></g><g id="n815"><circle cx="243" cy="2705"/></g><g id="n816"><circle cx="277" cy="2705"/></g><g id="n817"><circle cx="326" cy="2705"/></g><g id="n818"><circle cx="410" cy="2705"/></g><g id="n819"><circle cx="513" cy="2705"/></g><g id="n820"><circle cx="562" cy="2705"/></g><g id="n821"><circle cx="610" cy="2705"/></g><g id="n822"><circle cx="643" cy="2705"/></g><g id="n823"><circle cx="693" cy="2705"/></g><g id="n824"><circle cx="773" cy="2705"/></g>
<g id="n825"><circle cx="210" cy="2726"/></g><g id="n826"><circle cx="243" cy="2726"/></g><g id="n827"><circle cx="277" cy="2726"/></g><g id="n828"><circle cx="359" cy="2726"/></g><g id="n829"><circle cx="410" cy="2726"/></g><g id="n830"><circle cx="510" cy="2726"/></g><g id="n831"><circle cx="553" cy="2726"/></g><g id="n832"><circle cx="610" cy="2726"/></g><g id="n833"><circle cx="643" cy="2726"/></g><g id="n834"><circle cx="710" cy="2726"/></g><g id="n835"><circle cx="777" cy="2726"/></g>
<g id="n836"><circle cx="168" cy="2746"/></g><g id="n837"><circle cx="210" cy="2746"/></g><g id="n838"><circle cx="277" cy="2746"/></g><g id="n839"><circle cx="343" cy="2746"/></g><g id="n840"><circle cx="377" cy="2746"/></g><g id="n841"><circle cx="415" cy="2746"/></g><g id="n842"><circle cx="510" cy="2746"/></g><g id="n843"><circle cx="543" cy="2746"/></g><g id="n844"><circle cx="577" cy="2746"/></g><g id="n845"><circle cx="610" cy="2746"/></g><g id="n846"><circle cx="643" cy="2746"/></g><g id="n847"><circle cx="677" cy="2746"/></g><g id="n848"><circle cx="710" cy="2746"/></g><g id="n849"><circle cx="743" cy="2746"/></g><g id="n850"><circle cx="777" cy="2746"/></g><g id="n851"><circle cx="810" cy="2746"/></g>
<g id="n852"><circle cx="168" cy="2766"/></g><g id="n853"><circle cx="210" cy="2766"/></g><g id="n854"><circle cx="277" cy="2766"/></g><g id="n855"><circle cx="343" cy="2766"/></g><g id="n856"><circle cx="377" cy="2766"/></g><g id="n857"><circle cx="419" cy="2766"/></g><g id="n858"><circle cx="510" cy="2766"/></g><g id="n859"><circle cx="543" cy="2766"/></g><g id="n860"><circle cx="577" cy="2766"/></g><g id="n861"><circle cx="610" cy="2766"/></g><g id="n862"><circle cx="643" cy="2766"/></g><g id="n863"><circle cx="677" cy="2766"/></g><g id="n864"><circle cx="710" cy="2766"/></g><g id="n865"><circle cx="743" cy="2766"/></g><g id="n866"><circle cx="777" cy="2766"/></g><g id="n867"><circle cx="810" cy="2766"/></g>
<g id="n868"><circle cx="135" cy="2787"/></g><g id="n869"><circle cx="168" cy="2787"/></g><g id="n870"><circle cx="202" cy="2787"/></g><g id="n871"><circle cx="235" cy="2787"/></g><g id="n872"><circle cx="268" cy="2787"/></g><g id="n873"><circle cx="302" cy="2787"/></g><g id="n874"><circle cx="335" cy="2787"/></g><g id="n875"><circle cx="368" cy="2787"/></g><g id="n876"><circle cx="402" cy="2787"/></g><g id="n877"><circle cx="435" cy="2787"/></g><g id="n878"><circle cx="468" cy="2787"/></g><g id="n879"><circle cx="543" cy="2787"/></g><g id="n880"><circle cx="627" cy="2787"/></g><g id="n881"><circle cx="661" cy="2787"/></g><g id="n882"><circle cx="694" cy="2787"/></g><g id="n883"><circle cx="727" cy="2787"/></g><g id="n884"><circle cx="777" cy="2787"/></g><g id="n885"><circle cx="810" cy="2787"/></g><g id="n886"><circle cx="843" cy="2787"/></g>
<g id="n887"><circle cx="135" cy="2807"/></g><g id="n888"><circle cx="168" cy="2807"/></g><g id="n889"><circle cx="202" cy="2807"/></g><g id="n890"><circle cx="235" cy="2807"/></g><g id="n891"><circle cx="268" cy="2807"/></g><g id="n892"><circle cx="302" cy="2807"/></g><g id="n893"><circle cx="335" cy="2807"/></g><g id="n894"><circle cx="368" cy="2807"/></g><g id="n895"><circle cx="402" cy="2807"/></g><g id="n896"><circle cx="435" cy="2807"/></g><g id="n897"><circle cx="468" cy="2807"/></g><g id="n898"><circle cx="543" cy="2807"/></g><g id="n899"><circle cx="627" cy="2807"/></g><g id="n900"><circle cx="661" cy="2807"/></g><g id="n901"><circle cx="694" cy="2807"/></g><g id="n902"><circle cx="727" cy="2807"/></g><g id="n903"><circle cx="777" cy="2807"/></g><g id="n904"><circle cx="810" cy="2807"/></g><g id="n905"><circle cx="843" cy="2807"/></g>
<g id="n906"><circle cx="102" cy="2827"/></g><g id="n907"><circle cx="135" cy="2827"/></g><g id="n908"><circle cx="168" cy="2827"/></g><g id="n909"><circle cx="202" cy="2827"/></g><g id="n910"><circle cx="243" cy="2827"/></g><g id="n911"><circle cx="335" cy="2827"/></g><g id="n912"><circle cx="368" cy="2827"/></g><g id="n913"><circle cx="402" cy="2827"/></g><g id="n914"><circle cx="468" cy="2827"/></g><g id="n915"><circle cx="510" cy="2827"/></g><g id="n916"><circle cx="543" cy="2827"/></g><g id="n917"><circle cx="661" cy="2827"/></g><g id="n918"><circle cx="694" cy="2827"/></g><g id="n919"><circle cx="727" cy="2827"/></g><g id="n920"><circle cx="777" cy="2827"/></g><g id="n921"><circle cx="810" cy="2827"/></g>
<g id="n922"><circle cx="102" cy="2847"/></g><g id="n923"><circle cx="135" cy="2847"/></g><g id="n924"><circle cx="168" cy="2847"/></g><g id="n925"><circle cx="202" cy="2847"/></g><g id="n926"><circle cx="247" cy="2847"/></g><g id="n927"><circle cx="335" cy="2847"/></g><g id="n928"><circle cx="368" cy="2847"/></g><g id="n929"><circle cx="402" cy="2847"/></g><g id="n930"><circle cx="468" cy="2847"/></g><g id="n931"><circle cx="510" cy="2847"/></g><g id="n932"><circle cx="543" cy="2847"/></g><g id="n933"><circle cx="661" cy="2847"/></g><g id="n934"><circle cx="694" cy="2847"/></g><g id="n935"><circle cx="727" cy="2847"/></g><g id="n936"><circle cx="777" cy="2847"/></g><g id="n937"><circle cx="810" cy="2847"/></g>
<g id="n938"><circle cx="168" cy="2868"/></g><g id="n939"><circle cx="202" cy="2868"/></g><g id="n940"><circle cx="248" cy="2868"/></g><g id="n941"><circle cx="335" cy="2868"/></g><g id="n942"><circle cx="368" cy="2868"/></g><g id="n943"><circle cx="402" cy="2868"/></g><g id="n944"><circle cx="461" cy="2868"/></g><g id="n945"><circle cx="510" cy="2868"/></g><g id="n946"><circle cx="661" cy="2868"/></g><g id="n947"><circle cx="694" cy="2868"/></g><g id="n948"><circle cx="727" cy="2868"/></g><g id="n949"><circle cx="777" cy="2868"/></g><g id="n950"><circle cx="810" cy="2868"/></g>
<g id="n951"><circle cx="168" cy="2888"/></g><g id="n952"><circle cx="202" cy="2888"/></g><g id="n953"><circle cx="251" cy="2888"/></g><g id="n954"><circle cx="335" cy="2888"/></g><g id="n955"><circle cx="368" cy="2888"/></g><g id="n956"><circle cx="402" cy="2888"/></g><g id="n957"><circle cx="461" cy="2888"/></g><g id="n958"><circle cx="510" cy="2888"/></g><g id="n959"><circle cx="661" cy="2888"/></g><g id="n960"><circle cx="694" cy="2888"/></g><g id="n961"><circle cx="727" cy="2888"/></g><g id="n962"><circle cx="777" cy="2888"/></g><g id="n963"><circle cx="810" cy="2888"/></g>
<g id="n964"><circle cx="167" cy="2908"/></g><g id="n965"><circle cx="200" cy="2908"/></g><g id="n966"><circle cx="234" cy="2908"/></g><g id="n967"><circle cx="267" cy="2908"/></g><g id="n968"><circle cx="319" cy="2908"/></g><g id="n969"><circle cx="353" cy="2908"/></g><g id="n970"><circle cx="394" cy="2908"/></g><g id="n971"><circle cx="428" cy="2908"/></g><g id="n972"><circle cx="461" cy="2908"/></g><g id="n973"><circle cx="494" cy="2908"/></g><g id="n974"><circle cx="661" cy="2908"/></g><g id="n975"><circle cx="777" cy="2908"/></g>
<g id="n976"><circle cx="167" cy="2928"/></g><g id="n977"><circle cx="200" cy="2928"/></g><g id="n978"><circle cx="234" cy="2928"/></g><g id="n979"><circle cx="273" cy="2928"/></g><g id="n980"><circle cx="319" cy="2928"/></g><g id="n981"><circle cx="353" cy="2928"/></g><g id="n982"><circle cx="394" cy="2928"/></g><g id="n983"><circle cx="428" cy="2928"/></g><g id="n984"><circle cx="461" cy="2928"/></g><g id="n985"><circle cx="494" cy="2928"/></g><g id="n986"><circle cx="661" cy="2928"/></g><g id="n987"><circle cx="777" cy="2928"/></g>
<g id="n988"><circle cx="167" cy="2949"/></g><g id="n989"><circle cx="200" cy="2949"/></g><g id="n990"><circle cx="234" cy="2949"/></g><g id="n991"><circle cx="273" cy="2949"/></g><g id="n992"><circle cx="319" cy="2949"/></g><g id="n993"><circle cx="353" cy="2949"/></g><g id="n994"><circle cx="394" cy="2949"/></g><g id="n995"><circle cx="427" cy="2949"/></g><g id="n996"><circle cx="461" cy="2949"/></g><g id="n997"><circle cx="661" cy="2949"/></g><g id="n998"><circle cx="777" cy="2949"/></g>
<g id="n999"><circle cx="167" cy="2969"/></g><g id="n1000"><circle cx="200" cy="2969"/></g><g id="n1001"><circle cx="234" cy="2969"/></g><g id="n1002"><circle cx="273" cy="2969"/></g><g id="n1003"><circle cx="319" cy="2969"/></g><g id="n1004"><circle cx="353" cy="2969"/></g><g id="n1005"><circle cx="394" cy="2969"/></g><g id="n1006"><circle cx="427" cy="2969"/></g><g id="n1007"><circle cx="461" cy="2969"/></g><g id="n1008"><circle cx="661" cy="2969"/></g><g id="n1009"><circle cx="777" cy="2969"/></g>
<g id="n1010"><circle cx="174" cy="2989"/></g><g id="n1011"><circle cx="207" cy="2989"/></g><g id="n1012"><circle cx="241" cy="2989"/></g><g id="n1013"><circle cx="273" cy="2989"/></g><g id="n1014"><circle cx="322" cy="2989"/></g><g id="n1015"><circle cx="355" cy="2989"/></g><g id="n1016"><circle cx="394" cy="2989"/></g>
<g id="n1017"><circle cx="174" cy="3009"/></g><g id="n1018"><circle cx="207" cy="3009"/></g><g id="n1019"><circle cx="241" cy="3009"/></g><g id="n1020"><circle cx="273" cy="3009"/></g><g id="n1021"><circle cx="322" cy="3009"/></g><g id="n1022"><circle cx="355" cy="3009"/></g><g id="n1023"><circle cx="394" cy="3009"/></g>
<g id="n1024"><circle cx="174" cy="3030"/></g><g id="n1025"><circle cx="273" cy="3030"/></g><g id="n1026"><circle cx="377" cy="3030"/></g><g id="n1027"><circle cx="410" cy="3030"/></g>
<g id="n1028"><circle cx="174" cy="3050"/></g><g id="n1029"><circle cx="273" cy="3050"/></g><g id="n1030"><circle cx="377" cy="3050"/></g><g id="n1031"><circle cx="410" cy="3050"/></g>
<g id="n1032"><circle cx="174" cy="3070"/></g><g id="n1033"><circle cx="273" cy="3070"/></g><g id="n1034"><circle cx="377" cy="3070"/></g><g id="n1035"><circle cx="410" cy="3070"/></g><g id="n1036"><circle cx="443" cy="3070"/></g>
<g id="n1037"><circle cx="174" cy="3091"/></g><g id="n1038"><circle cx="273" cy="3091"/></g><g id="n1039"><circle cx="377" cy="3091"/></g><g id="n1040"><circle cx="410" cy="3091"/></g><g id="n1041"><circle cx="443" cy="3091"/></g>
<g id="n1042"><circle cx="158" cy="3111"/></g><g id="n1043"><circle cx="191" cy="3111"/></g><g id="n1044"><circle cx="273" cy="3111"/></g><g id="n1045"><circle cx="377" cy="3111"/></g>
<g id="n1046"><circle cx="158" cy="3131"/></g><g id="n1047"><circle cx="191" cy="3131"/></g><g id="n1048"><circle cx="273" cy="3131"/></g><g id="n1049"><circle cx="377" cy="3131"/></g>
<g id="n1050"><circle cx="158" cy="3151"/></g><g id="n1051"><circle cx="191" cy="3151"/></g><g id="n1052"><circle cx="158" cy="3172"/></g><g id="n1053"><circle cx="191" cy="3172"/></g><g id="n1054"><circle cx="158" cy="3192"/></g><g id="n1055"><circle cx="191" cy="3192"/></g><g id="n1056"><circle cx="158" cy="3212"/></g><g id="n1057"><circle cx="191" cy="3212"/></g>
</g>
</svg>
